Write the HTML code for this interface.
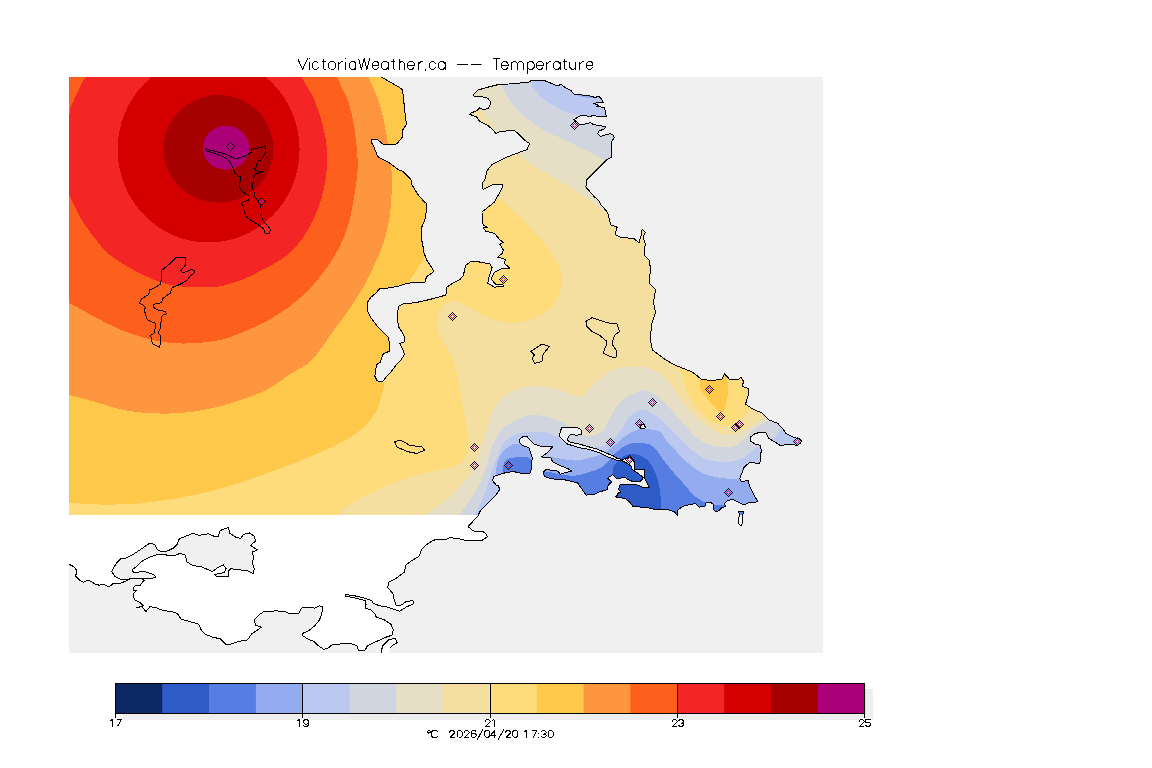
<!DOCTYPE html><html><head><meta charset="utf-8"><title>VictoriaWeather.ca -- Temperature</title>
<style>html,body{margin:0;padding:0;background:#fff;width:1152px;height:768px;overflow:hidden}svg{display:block}text{font-family:"Liberation Sans",sans-serif;fill:#000}</style></head><body>
<svg width="1152" height="768" viewBox="0 0 1152 768">
<defs>
<clipPath id="land"><path d="M69 77 L381.6 77 L388.8 81.3 L398.8 87 L402 89.5 L403.1 94.2 L404.5 108.5 L406.5 124.5 L402 131 L402.5 137 L398 142.5 L395.9 144.3 L389.5 144.5 L383 144.2 L377 139 L372 139.5 L371.5 142.5 L374.4 148 L377.5 156.5 L389.5 163 L398 169.5 L403.1 171.4 L409.5 178 L411.7 180.5 L412 185 L418 194.5 L420.2 197.2 L424.5 202 L426 203 L426 213 L425 219.5 L421.5 227.8 L421.1 236.7 L423.3 248 L423.3 251.1 L426.7 260 L430 265 L432.8 268.9 L433.3 271.7 L431.9 273.1 L427.2 276.2 L425.6 279.4 L424.8 282.5 L414.7 282.5 L406.9 283.3 L397.5 286.4 L388.1 288 L379.5 288.8 L375.6 293.4 L370.9 297.3 L367 302.8 L367 309 L369.4 315.3 L372.5 320 L377.2 326.2 L383.4 332.5 L388.1 337.2 L389.7 343.4 L389.7 351.2 L383.4 353.6 L381.9 357.5 L380.3 362.2 L377.2 363.8 L375.6 370 L374.8 376.2 L377.2 380.9 L382.7 381.7 L386.6 376.2 L389.7 373.1 L391.2 371.6 L396 365.3 L400.6 360.6 L404.5 354.4 L402.2 348.1 L399.8 343.4 L404.5 341.9 L404.5 337.2 L402.2 332.5 L398.3 326.2 L397.5 318.4 L397.5 312.2 L399 305.9 L403.8 303.6 L414.7 302.8 L425.6 300.5 L438.1 297.3 L445.9 295 L446.7 287.2 L453.8 282.5 L460 279.4 L463.3 275.6 L465.6 265.6 L471.1 261.1 L477.8 261.7 L490 263.9 L492.2 267.8 L489.4 275.6 L487.8 283.3 L494.4 287.2 L503.3 286.1 L502.8 284.4 L495.6 284.4 L491.1 278.9 L494.4 272.2 L502.2 268.3 L510 268.3 L504.4 263.3 L505.6 259.4 L497.8 257.2 L502.2 253.3 L503.3 250 L500 244.4 L503.3 242.2 L500 240 L494.4 233.3 L485.6 231.1 L483.3 227.8 L487.8 227.2 L483.3 225 L482.2 221.7 L482 212 L494.5 202 L502 188.2 L502 184 L493.2 184.5 L483.2 189.5 L482 183.2 L484.5 180.8 L487 170.8 L492 164.5 L507 157 L527 149.5 L529.5 143.5 L525.3 140.7 L519.7 135.1 L514.2 130.2 L505.8 131 L497.5 132.3 L496.1 133.7 L491.9 128.9 L487.8 125.4 L479.4 121.2 L476.7 117 L469.7 114.3 L471.1 112.9 L476.7 110.8 L479.4 108 L483.6 109.4 L487.8 108.7 L489.9 106 L490.6 101.8 L487.8 98.3 L482.2 96.9 L473.9 96.2 L473.2 94.8 L478.1 90 L487.8 87.2 L498.9 84.4 L508.6 84 L519.7 83 L528.1 82.3 L532.2 80.2 L543.3 80.2 L548.9 82.3 L557.2 85.8 L561.4 84.4 L565.6 87.9 L571.1 90.7 L573.9 94.1 L580.8 94.8 L591.9 96.2 L594.7 97.6 L598.9 96.2 L601.7 99 L603.1 102.5 L593.3 103.2 L598.9 105.2 L596.1 106.6 L604.4 107.3 L605.8 114.3 L607.2 117 L598.9 116.4 L593.3 115.7 L589.2 116.4 L585 115.7 L580.8 115.7 L576.7 117.8 L573.9 119.8 L576.7 121.9 L579.4 124.7 L585 124 L590.6 122.6 L593.3 124.7 L598.9 125.4 L605.8 126.8 L604.4 128.9 L598.9 131 L597.5 133.7 L600.3 136.5 L604.4 135.1 L610 133.7 L613.5 135.1 L614.2 137.9 L612.1 140.7 L611.5 144.5 L612 157 L607 159.5 L587 179.5 L585.8 187 L594.5 197 L598.3 200 L600.8 204.5 L607.7 212.5 L610.8 225 L617.1 227.1 L615 234.4 L621.2 237.5 L633.8 238.5 L639 242.7 L641 236 L642.1 229.2 L645.2 232.3 L643.1 237.5 L645.2 243.8 L644.2 255.2 L649.4 260.4 L650.4 268.8 L649.4 283.3 L655.6 289.6 L653.5 302.1 L655.6 312.5 L651.5 325 L650.4 339.6 L652.5 350 L664.7 359.1 L675.1 365.2 L692.5 372.1 L701.2 379.1 L711.6 380.8 L722 379.1 L724.6 373.9 L727.2 376.5 L729 379.1 L737.6 379.9 L741.1 377.3 L743.7 381.7 L742 386 L748.1 388.6 L748.1 395.6 L745.5 404.2 L753.3 409.4 L762 412.9 L768.9 419.9 L777.6 423.3 L782.8 428.5 L786.2 433.8 L793.2 437.2 L800.1 439 L801.9 440.7 L800.1 443.3 L796.7 445.9 L793.2 444.2 L786.2 444.2 L781 445.9 L775.8 442.5 L768.9 438.5 L766 433 L760.2 432.5 L755 433.5 L750.8 436.9 L750.1 441.1 L755 443.9 L760.6 445.3 L761.2 450.8 L760.6 456.4 L759.9 463.3 L749.4 462.6 L743.9 467.5 L742.5 471.7 L739.7 478.6 L741.1 481.4 L748.1 480.7 L749.4 485.6 L752.2 491.1 L755 496.7 L757.8 501.5 L755 502.2 L748.1 502.9 L743.9 505 L738.3 502.2 L732.8 499.4 L727.2 500.8 L724.4 503.6 L725.8 506.4 L721.7 507.8 L718.9 510.6 L716.1 511.9 L713.3 509.2 L714 505 L710.6 502.2 L706.4 502.2 L705 506.4 L699.4 507.1 L695.3 503.6 L688.3 505 L682.8 506.4 L677.2 510.6 L677.2 515.4 L674.4 511.9 L668.9 509.9 L660.6 509.2 L655 509.9 L652.2 508.5 L644.7 507.4 L633 506.4 L629.1 501.5 L625 498.4 L615.6 497 L616.9 495.8 L618.1 493.2 L620.6 492 L618.8 489.5 L619.4 485.8 L620.6 484.2 L623.1 484.5 L632.5 484.5 L637.5 485.1 L643.8 487.6 L649.4 488 L644.4 477.6 L644.4 469.5 L633.8 470.1 L635 468.9 L634.4 466.4 L634.4 462 L630.6 457.3 L622.5 459.5 L617.5 458.6 L612.5 455.4 L606.2 453.2 L602 451.2 L596.9 448.9 L589.1 446.9 L580 444.3 L570.8 442.3 L567.6 440.4 L568.2 436.5 L570.8 434.5 L576 435.2 L581.9 434.5 L581.2 430 L577.3 427.4 L561.7 427.4 L560.5 431 L559 436 L562 439 L567.2 443.9 L577.6 447.3 L589.8 449.6 L600.2 453.2 L608.1 457 L614.4 459.2 L617.5 460.6 L622.5 461 L626.2 462.8 L631 466 L632.3 469.6 L638.8 473.9 L643.5 477.8 L640 481.4 L633.8 482 L626.9 478.9 L625 477 L616.9 478.9 L612.5 474.8 L607.5 478.2 L611.9 482 L608.8 484.5 L607.5 487 L607.5 489.5 L603.8 490.8 L600 491.4 L595 494.2 L586.3 495.1 L581.1 488.1 L577.6 482.9 L563.8 479.6 L551.7 478.9 L544.7 476.6 L543.1 472.6 L546.2 469.5 L558 471.1 L560.3 474.2 L568.1 471.9 L572 471.1 L568.1 468.8 L560.3 465.6 L552.5 461.7 L550.9 457.8 L541.6 457 L547.8 452.3 L552.5 446.9 L540 446.1 L533.8 443.8 L529.8 439.8 L526.7 436.3 L522.8 436.7 L519.7 439.1 L519.7 443 L522.8 445.7 L529 447.7 L530.6 452.3 L532.2 457.8 L531.4 468.8 L529.8 473.4 L521.2 473.4 L513.4 471.5 L505.6 472.7 L497.8 475 L493.9 476.6 L492.3 480.5 L496.2 485 L498.6 485.5 L499.5 489.9 L496 495.1 L489.1 502 L480.4 510.7 L477.9 515.9 L468.1 526.7 L473.5 531 L484.4 532.1 L487.6 536.5 L482.2 540.2 L467 540.8 L458.3 538.6 L449.7 537.6 L445.3 539.7 L436.6 539.3 L432.3 540.8 L425.8 545.1 L421.4 549.5 L419.3 556 L410.6 561.4 L406.2 564.7 L404.1 572.3 L395.4 578.8 L388.9 582 L387.8 587.5 L393.2 594 L394.3 600.5 L396.5 605.9 L401.9 604.8 L406.2 601.6 L412.8 600.5 L413.8 603.7 L406.2 607 L399.7 611.3 L393.2 609.2 L386.7 607 L380.2 605.9 L373.7 603.7 L371.5 600.5 L365 598.3 L354.2 595.7 L345.5 594.6 L345.5 596.1 L354.2 597.9 L365 600.5 L366.1 604.8 L365 608.1 L371.5 610.3 L374.8 613.5 L375.9 616.8 L384.5 620 L391.1 624.4 L393.2 629.8 L392.1 635.2 L386.7 636.9 L375.9 641.7 L367.2 646.1 L365 650.4 L358.5 650.8 L357.4 646.1 L352 643.9 L343.3 643.9 L332.5 644.3 L328.1 648.2 L323.8 649.3 L317.3 645 L314 641.3 L308.6 639.5 L302.1 635.2 L303.2 633 L308.6 630.9 L315.1 625.4 L319.4 620 L321.6 614.6 L322.7 607 L319.4 605.9 L315.1 608.1 L308.6 607.4 L303.2 607 L301 609.2 L298.8 613.5 L293.4 613.9 L289.1 613.5 L284.7 611.3 L276 610.9 L267.4 611.3 L264 611.6 L259.3 614.5 L254.4 619.4 L255.4 625.2 L261.3 627.2 L257.4 630.1 L251.5 634 L247.6 639.9 L239.8 641.2 L232 643.8 L226.1 644.8 L220.2 638.9 L212.4 637 L204.6 634 L200.7 629.1 L198.8 624.3 L189 621.3 L181.2 619.4 L177.3 613.5 L171.4 611.6 L163.6 610.6 L155.8 607.7 L149.9 606.7 L146 611.6 L142.1 606.7 L136.3 607.7 L143.1 605.7 L140.2 602.8 L134.3 599.8 L133.3 594 L137.2 590.1 L133.3 590.1 L134.3 586.2 L140.2 585.2 L144.1 580.3 L142.1 578.8 L138.2 578.8 L132.4 578 L126.5 580.7 L120.6 583.2 L112.8 583.8 L108.9 587.1 L103 584.2 L99.2 585.2 L95.2 584.2 L91.3 581.3 L87.4 580.3 L83.5 582.3 L79.6 580.3 L75.7 576.4 L76.7 570.5 L73.8 566.6 L68.9 564.3 Z"/></clipPath>
<clipPath id="data"><rect x="69" y="77" width="754" height="438"/></clipPath>
<clipPath id="isl"><path d="M738.3 511.9 L743.2 511.9 L742.5 518.9 L741.8 525.8 L739 524.4 L738.3 518.9 L739.7 514.7 Z"/></clipPath>
</defs>
<rect width="1152" height="768" fill="#fff"/>
<rect x="69" y="77" width="754" height="576" fill="#f0f0f0"/>
<path d="M69 77 L381.6 77 L388.8 81.3 L398.8 87 L402 89.5 L403.1 94.2 L404.5 108.5 L406.5 124.5 L402 131 L402.5 137 L398 142.5 L395.9 144.3 L389.5 144.5 L383 144.2 L377 139 L372 139.5 L371.5 142.5 L374.4 148 L377.5 156.5 L389.5 163 L398 169.5 L403.1 171.4 L409.5 178 L411.7 180.5 L412 185 L418 194.5 L420.2 197.2 L424.5 202 L426 203 L426 213 L425 219.5 L421.5 227.8 L421.1 236.7 L423.3 248 L423.3 251.1 L426.7 260 L430 265 L432.8 268.9 L433.3 271.7 L431.9 273.1 L427.2 276.2 L425.6 279.4 L424.8 282.5 L414.7 282.5 L406.9 283.3 L397.5 286.4 L388.1 288 L379.5 288.8 L375.6 293.4 L370.9 297.3 L367 302.8 L367 309 L369.4 315.3 L372.5 320 L377.2 326.2 L383.4 332.5 L388.1 337.2 L389.7 343.4 L389.7 351.2 L383.4 353.6 L381.9 357.5 L380.3 362.2 L377.2 363.8 L375.6 370 L374.8 376.2 L377.2 380.9 L382.7 381.7 L386.6 376.2 L389.7 373.1 L391.2 371.6 L396 365.3 L400.6 360.6 L404.5 354.4 L402.2 348.1 L399.8 343.4 L404.5 341.9 L404.5 337.2 L402.2 332.5 L398.3 326.2 L397.5 318.4 L397.5 312.2 L399 305.9 L403.8 303.6 L414.7 302.8 L425.6 300.5 L438.1 297.3 L445.9 295 L446.7 287.2 L453.8 282.5 L460 279.4 L463.3 275.6 L465.6 265.6 L471.1 261.1 L477.8 261.7 L490 263.9 L492.2 267.8 L489.4 275.6 L487.8 283.3 L494.4 287.2 L503.3 286.1 L502.8 284.4 L495.6 284.4 L491.1 278.9 L494.4 272.2 L502.2 268.3 L510 268.3 L504.4 263.3 L505.6 259.4 L497.8 257.2 L502.2 253.3 L503.3 250 L500 244.4 L503.3 242.2 L500 240 L494.4 233.3 L485.6 231.1 L483.3 227.8 L487.8 227.2 L483.3 225 L482.2 221.7 L482 212 L494.5 202 L502 188.2 L502 184 L493.2 184.5 L483.2 189.5 L482 183.2 L484.5 180.8 L487 170.8 L492 164.5 L507 157 L527 149.5 L529.5 143.5 L525.3 140.7 L519.7 135.1 L514.2 130.2 L505.8 131 L497.5 132.3 L496.1 133.7 L491.9 128.9 L487.8 125.4 L479.4 121.2 L476.7 117 L469.7 114.3 L471.1 112.9 L476.7 110.8 L479.4 108 L483.6 109.4 L487.8 108.7 L489.9 106 L490.6 101.8 L487.8 98.3 L482.2 96.9 L473.9 96.2 L473.2 94.8 L478.1 90 L487.8 87.2 L498.9 84.4 L508.6 84 L519.7 83 L528.1 82.3 L532.2 80.2 L543.3 80.2 L548.9 82.3 L557.2 85.8 L561.4 84.4 L565.6 87.9 L571.1 90.7 L573.9 94.1 L580.8 94.8 L591.9 96.2 L594.7 97.6 L598.9 96.2 L601.7 99 L603.1 102.5 L593.3 103.2 L598.9 105.2 L596.1 106.6 L604.4 107.3 L605.8 114.3 L607.2 117 L598.9 116.4 L593.3 115.7 L589.2 116.4 L585 115.7 L580.8 115.7 L576.7 117.8 L573.9 119.8 L576.7 121.9 L579.4 124.7 L585 124 L590.6 122.6 L593.3 124.7 L598.9 125.4 L605.8 126.8 L604.4 128.9 L598.9 131 L597.5 133.7 L600.3 136.5 L604.4 135.1 L610 133.7 L613.5 135.1 L614.2 137.9 L612.1 140.7 L611.5 144.5 L612 157 L607 159.5 L587 179.5 L585.8 187 L594.5 197 L598.3 200 L600.8 204.5 L607.7 212.5 L610.8 225 L617.1 227.1 L615 234.4 L621.2 237.5 L633.8 238.5 L639 242.7 L641 236 L642.1 229.2 L645.2 232.3 L643.1 237.5 L645.2 243.8 L644.2 255.2 L649.4 260.4 L650.4 268.8 L649.4 283.3 L655.6 289.6 L653.5 302.1 L655.6 312.5 L651.5 325 L650.4 339.6 L652.5 350 L664.7 359.1 L675.1 365.2 L692.5 372.1 L701.2 379.1 L711.6 380.8 L722 379.1 L724.6 373.9 L727.2 376.5 L729 379.1 L737.6 379.9 L741.1 377.3 L743.7 381.7 L742 386 L748.1 388.6 L748.1 395.6 L745.5 404.2 L753.3 409.4 L762 412.9 L768.9 419.9 L777.6 423.3 L782.8 428.5 L786.2 433.8 L793.2 437.2 L800.1 439 L801.9 440.7 L800.1 443.3 L796.7 445.9 L793.2 444.2 L786.2 444.2 L781 445.9 L775.8 442.5 L768.9 438.5 L766 433 L760.2 432.5 L755 433.5 L750.8 436.9 L750.1 441.1 L755 443.9 L760.6 445.3 L761.2 450.8 L760.6 456.4 L759.9 463.3 L749.4 462.6 L743.9 467.5 L742.5 471.7 L739.7 478.6 L741.1 481.4 L748.1 480.7 L749.4 485.6 L752.2 491.1 L755 496.7 L757.8 501.5 L755 502.2 L748.1 502.9 L743.9 505 L738.3 502.2 L732.8 499.4 L727.2 500.8 L724.4 503.6 L725.8 506.4 L721.7 507.8 L718.9 510.6 L716.1 511.9 L713.3 509.2 L714 505 L710.6 502.2 L706.4 502.2 L705 506.4 L699.4 507.1 L695.3 503.6 L688.3 505 L682.8 506.4 L677.2 510.6 L677.2 515.4 L674.4 511.9 L668.9 509.9 L660.6 509.2 L655 509.9 L652.2 508.5 L644.7 507.4 L633 506.4 L629.1 501.5 L625 498.4 L615.6 497 L616.9 495.8 L618.1 493.2 L620.6 492 L618.8 489.5 L619.4 485.8 L620.6 484.2 L623.1 484.5 L632.5 484.5 L637.5 485.1 L643.8 487.6 L649.4 488 L644.4 477.6 L644.4 469.5 L633.8 470.1 L635 468.9 L634.4 466.4 L634.4 462 L630.6 457.3 L622.5 459.5 L617.5 458.6 L612.5 455.4 L606.2 453.2 L602 451.2 L596.9 448.9 L589.1 446.9 L580 444.3 L570.8 442.3 L567.6 440.4 L568.2 436.5 L570.8 434.5 L576 435.2 L581.9 434.5 L581.2 430 L577.3 427.4 L561.7 427.4 L560.5 431 L559 436 L562 439 L567.2 443.9 L577.6 447.3 L589.8 449.6 L600.2 453.2 L608.1 457 L614.4 459.2 L617.5 460.6 L622.5 461 L626.2 462.8 L631 466 L632.3 469.6 L638.8 473.9 L643.5 477.8 L640 481.4 L633.8 482 L626.9 478.9 L625 477 L616.9 478.9 L612.5 474.8 L607.5 478.2 L611.9 482 L608.8 484.5 L607.5 487 L607.5 489.5 L603.8 490.8 L600 491.4 L595 494.2 L586.3 495.1 L581.1 488.1 L577.6 482.9 L563.8 479.6 L551.7 478.9 L544.7 476.6 L543.1 472.6 L546.2 469.5 L558 471.1 L560.3 474.2 L568.1 471.9 L572 471.1 L568.1 468.8 L560.3 465.6 L552.5 461.7 L550.9 457.8 L541.6 457 L547.8 452.3 L552.5 446.9 L540 446.1 L533.8 443.8 L529.8 439.8 L526.7 436.3 L522.8 436.7 L519.7 439.1 L519.7 443 L522.8 445.7 L529 447.7 L530.6 452.3 L532.2 457.8 L531.4 468.8 L529.8 473.4 L521.2 473.4 L513.4 471.5 L505.6 472.7 L497.8 475 L493.9 476.6 L492.3 480.5 L496.2 485 L498.6 485.5 L499.5 489.9 L496 495.1 L489.1 502 L480.4 510.7 L477.9 515.9 L468.1 526.7 L473.5 531 L484.4 532.1 L487.6 536.5 L482.2 540.2 L467 540.8 L458.3 538.6 L449.7 537.6 L445.3 539.7 L436.6 539.3 L432.3 540.8 L425.8 545.1 L421.4 549.5 L419.3 556 L410.6 561.4 L406.2 564.7 L404.1 572.3 L395.4 578.8 L388.9 582 L387.8 587.5 L393.2 594 L394.3 600.5 L396.5 605.9 L401.9 604.8 L406.2 601.6 L412.8 600.5 L413.8 603.7 L406.2 607 L399.7 611.3 L393.2 609.2 L386.7 607 L380.2 605.9 L373.7 603.7 L371.5 600.5 L365 598.3 L354.2 595.7 L345.5 594.6 L345.5 596.1 L354.2 597.9 L365 600.5 L366.1 604.8 L365 608.1 L371.5 610.3 L374.8 613.5 L375.9 616.8 L384.5 620 L391.1 624.4 L393.2 629.8 L392.1 635.2 L386.7 636.9 L375.9 641.7 L367.2 646.1 L365 650.4 L358.5 650.8 L357.4 646.1 L352 643.9 L343.3 643.9 L332.5 644.3 L328.1 648.2 L323.8 649.3 L317.3 645 L314 641.3 L308.6 639.5 L302.1 635.2 L303.2 633 L308.6 630.9 L315.1 625.4 L319.4 620 L321.6 614.6 L322.7 607 L319.4 605.9 L315.1 608.1 L308.6 607.4 L303.2 607 L301 609.2 L298.8 613.5 L293.4 613.9 L289.1 613.5 L284.7 611.3 L276 610.9 L267.4 611.3 L264 611.6 L259.3 614.5 L254.4 619.4 L255.4 625.2 L261.3 627.2 L257.4 630.1 L251.5 634 L247.6 639.9 L239.8 641.2 L232 643.8 L226.1 644.8 L220.2 638.9 L212.4 637 L204.6 634 L200.7 629.1 L198.8 624.3 L189 621.3 L181.2 619.4 L177.3 613.5 L171.4 611.6 L163.6 610.6 L155.8 607.7 L149.9 606.7 L146 611.6 L142.1 606.7 L136.3 607.7 L143.1 605.7 L140.2 602.8 L134.3 599.8 L133.3 594 L137.2 590.1 L133.3 590.1 L134.3 586.2 L140.2 585.2 L144.1 580.3 L142.1 578.8 L138.2 578.8 L132.4 578 L126.5 580.7 L120.6 583.2 L112.8 583.8 L108.9 587.1 L103 584.2 L99.2 585.2 L95.2 584.2 L91.3 581.3 L87.4 580.3 L83.5 582.3 L79.6 580.3 L75.7 576.4 L76.7 570.5 L73.8 566.6 L68.9 564.3 Z" fill="#fff"/>
<path d="M738.3 511.9 L743.2 511.9 L742.5 518.9 L741.8 525.8 L739 524.4 L738.3 518.9 L739.7 514.7 Z" fill="#fff"/>
<path d="M381.3 653 L382.4 646.1 L388.9 639.5 L395.4 638.5 L397.1 642.8 L393.2 645 L390 648.2 L388.9 653 Z" fill="#fff"/>
<g clip-path="url(#data)"><g clip-path="url(#land)" shape-rendering="crispEdges"><rect x="60" y="60" width="780" height="480" fill="#f5dfa0"/><path d="M474.5 104 C475.3 104.8 477.6 106.8 479.4 108.7 C481.1 110.7 482.9 112.9 485 115.7 C487.1 118.5 490 122.6 491.9 125.4 C493.8 128.2 493.4 128.9 496.1 132.3 C498.8 135.7 504 142.1 508 146 C512 149.9 515.6 152.5 520 155.8 C524.4 159.1 529.5 162.8 534.3 165.9 C539.1 169 543.9 171.7 548.7 174.5 C553.5 177.3 558.2 180.1 563 183 C567.8 185.9 572.5 188.6 577.3 191.7 C582.1 194.8 586.8 198.4 591.6 201.7 C596.4 205 601.3 208.5 606 211.7 C610.7 214.9 617.7 219.4 620 221 L660 225 L660 70 L470 70 Z" fill="#e6dec5"/><path d="M767.1 416.4 C765.1 417.5 759.3 420.7 755 423.3 C750.7 425.9 745.7 430 741.1 432 C736.5 434 731.8 435.8 727.2 435.5 C722.6 435.2 717.9 432.9 713.3 430.3 C708.7 427.7 704 423.9 699.4 419.9 C694.8 415.8 689.9 411.2 685.6 406 C681.3 400.8 677.5 393.8 673.4 388.6 C669.3 383.4 665.6 378.2 661.2 374.7 C656.9 371.2 650.6 369 647.4 367.8 C644.2 366.6 645.8 367.6 642.3 367.4 C638.8 367.2 631.6 366.1 626.7 366.5 C621.8 366.9 617.4 367.8 612.8 370 C608.2 372.2 602.7 376.5 598.9 379.5 C595.1 382.5 593.1 385.3 590.2 388.2 C587.3 391.1 584.7 395.9 581.5 396.9 C578.3 397.9 575.1 395.6 571.1 394.3 C567.1 393 561.8 390.4 557.2 389.1 C552.6 387.8 547.9 386.9 543.3 386.5 C538.7 386.1 534 385.9 529.4 386.5 C524.8 387.1 519.9 388.2 515.6 389.9 C511.3 391.6 506.9 394 503.4 396.9 C499.9 399.8 497 403.6 494.7 407.3 C492.4 411.1 490.8 415.6 489.5 419.4 C488.2 423.2 488.1 425.6 486.9 430 C485.6 434.4 483.6 441.3 482 446 C480.4 450.7 478.9 453.5 477.1 458.1 C475.3 462.7 473.9 469.3 471.2 473.8 C468.6 478.2 465.2 480.4 461.3 484.6 C457.4 488.8 453.8 494.1 447.8 499.1 C441.8 504.1 431.1 509.5 425.1 514.6 C419.1 519.8 414.2 527.4 412 530 L830 530 L830 405 L780 405 Z" fill="#e6dec5"/><path d="M495 72 C496.1 74.2 499.4 80.6 501.7 85.1 C504 89.6 505.6 94.4 508.6 99 C511.6 103.6 515.4 108.3 519.7 112.5 C524 116.7 529.5 120.9 534.3 124.3 C539.1 127.7 543.9 130.5 548.7 132.9 C553.5 135.3 558.2 136.7 563 138.9 C567.8 141.1 572.5 143.7 577.3 146 C582.1 148.3 586.8 150.6 591.6 153 C596.4 155.4 600.4 157.8 606 160.3 C611.6 162.8 621.8 166.7 625 168 L660 170 L660 70 Z" fill="#d0d5e0"/><path d="M772 417 C771.5 417.5 770.9 418.6 768.9 419.9 C766.9 421.2 762.8 423.3 760 425 C757.2 426.7 754.7 427.8 752.2 430 C749.8 432.2 748.1 435.8 745.3 438.3 C742.5 440.9 739.1 443.8 735.6 445.3 C732.1 446.8 728.6 447.4 724.4 447.4 C720.2 447.4 714.8 446.6 710.6 445.3 C706.4 444 702.4 441.6 699.4 439.7 C696.4 437.8 696 437.4 692.5 433.8 C689 430.1 683.2 423.3 678.6 418.1 C674 412.9 669.3 406.8 664.7 402.5 C660.1 398.2 654.5 394.1 650.8 392.1 C647.1 390.2 646.3 390 642.3 390.8 C638.3 391.6 631 394.1 626.7 396.9 C622.4 399.6 619.1 403.6 616.2 407.3 C613.4 411.1 611.3 415.6 609.3 419.4 C607.3 423.2 606 427.6 604.1 430 C602.2 432.4 600.4 433 598 434 C595.6 435 592.6 435.7 590 436 C587.4 436.3 585.1 436.6 582.6 435.8 C580.1 435 578.1 433.1 575 431 C571.9 428.9 568.4 425.1 564.2 422.9 C560 420.6 554.4 418.8 550 417.5 C545.6 416.2 541.1 415.6 537.7 415.2 C534.3 414.8 532.7 414.5 529.4 415.1 C526.1 415.8 522.6 416.8 518.1 419.1 C513.6 421.4 506.7 424.6 502.5 428.8 C498.3 433 495.3 438.6 492.7 444.5 C490.1 450.4 489.2 457.2 486.9 464 C484.6 470.8 482 479.3 479.1 485.5 C476.2 491.7 472.6 496.2 469.3 501.1 C466 506 462.7 510 459.5 514.8 C456.3 519.6 451.6 527.5 450 530 L830 530 L830 410 L785 410 Z" fill="#d0d5e0"/><path d="M524 70 C524.9 71.9 527.3 77.9 529.4 81.6 C531.5 85.3 534.1 89.1 536.4 92 C538.7 94.9 540.3 96.7 543.3 99 C546.3 101.3 550.7 103.9 554.4 106 C558.1 108.1 561.9 110 565.6 111.5 C569.3 113 572.6 113.9 576.7 115 C580.8 116.1 584.5 117 590 118 C595.5 119 603.3 120 610 121 C616.7 122 626.7 123.5 630 124 L660 124 L660 70 Z" fill="#bbc8f0"/><path d="M786 424 C784.9 425.1 781.6 427.5 779.3 430.3 C777 433.1 776.2 437.8 772.4 440.7 C768.6 443.6 761.6 444.7 756.7 447.6 C751.8 450.5 747.1 455.7 742.8 458 C738.5 460.3 735 460.9 730.7 461.5 C726.4 462.1 721.4 462.1 716.8 461.5 C712.2 460.9 707.6 460.3 703 458 C698.4 455.7 693.6 451.6 689 447.6 C684.4 443.6 679.7 438.4 675.1 433.8 C670.5 429.1 665.9 423.7 661.2 419.9 C656.6 416.1 650.9 412.8 647.4 411.2 C643.9 409.6 642.9 409.2 640 410 C637.1 410.8 633 413 630.1 416 C627.2 419 625.4 424.5 622.9 428 C620.4 431.5 617.9 434.3 615.1 437.1 C612.3 439.9 609.2 443.2 606 445 C602.8 446.8 599.1 447.4 595.6 447.6 C592.1 447.8 588.6 446.7 585 446 C581.4 445.3 577.7 444.3 574 443.5 C570.3 442.7 565.8 442.1 563 441 C560.2 439.9 559.9 437.9 557.2 436.6 C554.5 435.3 550.2 433.8 547 433 C543.8 432.2 542.5 431.6 537.7 431.8 C532.9 431.9 523.6 431.9 518.1 433.7 C512.6 435.5 508.1 438.4 504.5 442.5 C500.9 446.6 498.9 452.9 496.6 458.1 C494.3 463.3 492.8 467.9 490.8 473.8 C488.9 479.6 486.8 487.8 484.9 493.3 C482.9 498.8 480.9 503.4 479.1 507 C477.3 510.6 476.4 511 474 514.8 C471.6 518.6 466.5 527.5 465 530 L830 530 L830 424 Z" fill="#bbc8f0"/><path d="M578 93.5 C579.7 93.3 586.8 94.7 590 95.2 C593.2 95.7 596.7 96 597 96.5 C597.3 97 594.8 98 592 98 C589.2 98 582.3 97.2 580 96.5 C577.7 95.8 576.3 93.7 578 93.5 Z" fill="#93acf0"/><path d="M738.3 479.3 C736.4 479.2 730.9 479 727.2 478.6 C723.5 478.2 720.3 478.1 716.1 477.2 C711.9 476.3 706.8 475.4 702.2 473.1 C697.6 470.8 692.7 467 688.3 463.3 C683.9 459.6 679.5 454.7 675.8 450.8 C672.1 446.9 668.5 443.1 666 440 C663.5 436.9 663.5 433.7 660.7 431.9 C657.9 430.1 652.7 429.7 649 429.3 C645.3 428.9 642.4 428.2 638.5 429.3 C634.6 430.4 629.4 433.2 625.5 435.8 C621.6 438.4 619 441.9 615.1 445 C611.2 448.1 606.4 451.9 602.1 454.1 C597.8 456.3 593.5 456.9 589.1 458 C584.8 459.1 580.4 460.3 576 460.5 C571.6 460.7 567.3 459.6 563 459 C558.7 458.4 553.6 457.1 550 457 C546.4 456.9 544.1 459.3 541.6 458.1 C539.1 456.9 537 451.9 535 450 C533 448.1 532.3 447.4 529.8 446.4 C527.3 445.4 522.9 444.3 520 444 C517.1 443.7 515.2 443.1 512.3 444.5 C509.4 445.9 504.9 449.4 502.5 452.3 C500.1 455.2 498.7 457.8 497.6 462 C496.5 466.2 495.5 472.5 495.7 477.7 C495.9 482.9 499.6 487.9 498.6 493.3 C497.7 498.7 493.1 503.9 490 510 C486.9 516.1 481.7 526.7 480 530 L830 530 L830 480 L760 480 Z" fill="#93acf0"/><path d="M705 502.2 C704.1 501.7 701.5 500.8 699.4 499.4 C697.3 498 695.3 496.7 692.5 493.9 C689.7 491.1 686.3 486.7 682.8 482.8 C679.3 478.9 675.2 474.5 671.7 470.3 C668.2 466.1 664.9 461.7 661.9 457.8 C658.9 453.9 656.6 449.1 653.6 446.7 C650.6 444.3 647.7 443.7 643.9 443.2 C640.1 442.7 634.6 442.7 630.7 443.6 C626.8 444.6 623.5 446.5 620.3 448.9 C617 451.3 614.2 455 611.2 458 C608.2 461 605.8 464.7 602.1 467.1 C598.4 469.5 593.5 470.9 589.1 472.3 C584.8 473.7 580.4 475.1 576 475.5 C571.6 475.9 567.3 475.5 563 474.9 C558.7 474.3 553.2 472.5 550 472 C546.8 471.5 546 473 543.5 471.8 C541 470.6 537.3 467.3 535 465 C532.7 462.7 532 459.4 529.8 458.1 C527.6 456.8 525.2 457.1 522 457.1 C518.8 457.1 513.2 457.3 510.3 458.1 C507.4 458.9 505.8 460.1 504.5 462 C503.2 463.9 502.8 467.8 502.5 469.8 C502.2 471.8 503.4 470.6 503 474 C502.6 477.4 500.5 487.3 500 490 L500 530 L830 530 L830 505 L712 505 Z" fill="#557de2"/><path d="M660.6 515 C660.6 514 660.6 512.2 660.6 509.2 C660.6 506.1 660.8 500.6 660.6 496.7 C660.4 492.8 660.1 489.8 659.2 485.6 C658.3 481.4 656.9 475.9 655 471.7 C653.1 467.5 650.5 463.3 648 460.6 C645.5 457.9 642.7 456.5 639.8 455.4 C636.9 454.3 633.5 453.9 630.7 454.1 C627.9 454.3 625.5 455 622.9 456.7 C620.3 458.4 616.8 462.3 615.1 464.5 C613.4 466.7 612.7 467.8 612.5 469.7 C612.3 471.6 614.5 473.6 613.8 476.2 C613 478.8 609.3 481.9 608 485 C606.7 488.1 606.7 490 606 495 C605.3 500 604.3 511.7 604 515 L604 530 L662 530 Z" fill="#2d5bc8"/><path d="M482 192 C484.8 193.2 492.1 194.4 498.8 199 C505.4 203.6 513.7 211.7 521.7 219.6 C529.7 227.5 540.6 239 546.7 246.7 C552.8 254.4 556 259.8 558.5 266 C561 272.2 563.1 277.2 562 284 C560.9 290.8 557 300.7 552 306.5 C547 312.3 538.7 316.3 532 319 C525.3 321.7 518.7 322.8 512 322.8 C505.3 322.8 498.7 321.3 492 319 C485.3 316.7 477.8 311.9 472 309 C466.2 306.1 461.6 302.3 457 301.5 C452.4 300.7 447.8 301.1 444.5 304 C441.2 306.9 437.8 313.6 437 319 C436.2 324.4 437.4 331.1 439.5 336.5 C441.6 341.9 446.6 345.2 449.5 351.5 C452.4 357.8 455.2 367.3 457 374 C458.8 380.7 458.8 384.9 460 391.7 C461.2 398.5 463.3 408.6 464.5 415 C465.7 421.4 466.3 424.5 467 430 C467.7 435.5 469 443.2 468.5 448 C468 452.8 466.1 456 464 459 C461.9 462 459.6 464.1 455.6 465.9 C451.6 467.7 445.1 468.6 440 469.8 C434.9 471 433.6 470.5 425.1 473 C416.6 475.5 401 479.7 389 484.6 C377 489.5 361.3 497.6 352.9 502.6 C344.5 507.6 342.3 510 338.5 514.6 C334.7 519.2 331.4 527.4 330 530 L50 530 L50 60 L440 60 L440 150 L465 170 L478 190 Z" fill="#fedb7b"/><path d="M678.6 367.8 C679.2 368.9 680.7 370.6 682.1 374.7 C683.5 378.8 685 386.9 687.3 392.1 C689.6 397.3 692.8 401.7 696 406 C699.2 410.3 702.4 414.9 706.4 418.1 C710.4 421.3 716.2 423.9 720.3 425.1 C724.3 426.3 727.2 426.3 730.7 425.1 C734.2 423.9 738.2 420.4 741.1 418.1 C744 415.8 746.3 413.6 748.1 411.2 C749.9 408.8 751.4 405.2 752 404 L760 380 L700 355 L676 362 Z" fill="#fedb7b"/><path d="M69 502.6 C74.2 503 88.9 504.3 100.1 504.5 C111.3 504.7 124.2 504.6 136.2 503.7 C148.2 502.8 160.2 501 172.3 499 C184.4 497 196.4 494.8 208.5 491.8 C220.6 488.8 232.6 484.9 244.6 481 C256.6 477.1 268.7 472.8 280.7 468.3 C292.7 463.8 304.8 459.3 316.8 453.9 C328.8 448.5 343.3 442.4 352.9 435.8 C362.5 429.2 369.8 421.2 374.6 414.2 C379.5 407.2 380.4 399 382 394 C383.6 389 384.3 387 384 384 C383.7 381 379.7 379 380 376 C380.3 373 383.8 369.3 386 366 C388.2 362.7 391.3 360 393 356 C394.7 352 396.5 346.3 396 342 C395.5 337.7 391.3 337 390 330 C388.7 323 385.5 307 388 300 C390.5 293 401.1 291.8 405 288 C408.9 284.2 408.7 281.9 411.7 277.3 C414.7 272.7 419.7 265.1 423.1 260.2 C426.5 255.3 429.2 253 432 248 C434.8 243 438.7 233 440 230 L440 60 L50 60 L50 502 Z" fill="#fec84a"/><path d="M700 372 C700 373.5 700.2 378 700.3 380.8 C700.3 383.6 699.3 385.9 700.3 388.6 C701.3 391.4 703.6 393.8 706.4 397.3 C709.1 400.8 713.9 407.1 716.8 409.4 C719.7 411.7 721.9 414.1 723.8 411.2 C725.6 408.3 727.5 397.5 728.1 392.1 C728.7 386.8 727.2 382.5 727.2 379.1 C727.2 375.8 727.9 373.2 728 372 Z" fill="#fec84a"/><path d="M69 395 C73.2 396.1 85.7 399.2 94 401.5 C102.3 403.8 110.7 407.1 119 409 C127.3 410.9 135.7 412 144 412.8 C152.3 413.5 160.7 413.7 169 413.5 C177.3 413.3 185.7 412.7 194 411.5 C202.3 410.3 210.7 408.6 219 406.5 C227.3 404.4 235.8 401.9 244 399 C252.2 396.1 260 393.3 268 389 C276 384.7 284.7 377.8 292 373 C299.3 368.2 305.4 366.6 312 360 C318.6 353.4 325.6 341.6 331.7 333.3 C337.8 325 343.1 318 348.3 310.4 C353.5 302.8 358.5 295.5 363 287.5 C367.5 279.5 371.9 270.1 375.4 262.5 C378.9 254.9 381.5 248.6 383.8 241.7 C386 234.8 387.7 227.8 389 220.8 C390.3 213.9 390.9 208.2 391.3 200 C391.7 191.8 392.3 181.4 391.6 171.4 C390.9 161.4 389.2 151 387.3 140 C385.4 129 383.3 116.1 380.2 105.6 C377.1 95.1 371.4 84.6 368.7 77 C366 69.4 364.8 62.8 364 60 L50 60 L50 393 Z" fill="#fd963f"/><path d="M69 302.8 C73.2 305 85.7 312.1 94 316.5 C102.3 320.9 110.7 325.5 119 329 C127.3 332.5 135.7 335.5 144 337.8 C152.3 340 160.7 341.8 169 342.8 C177.3 343.7 185.7 343.7 194 343.2 C202.3 342.8 211.3 341.9 219 340.2 C226.7 338.6 232 336.5 240 333.3 C248 330.1 258.7 325.3 267 320.8 C275.3 316.3 282.7 311.8 290 306.2 C297.3 300.7 304.6 294.1 310.8 287.5 C317.1 280.9 322.6 273.6 327.5 266.7 C332.4 259.8 336.5 252.8 340 245.8 C343.5 238.9 346.1 232.6 348.3 225 C350.6 217.4 352 208.4 353.5 200 C355 191.6 356.7 181.9 357.3 174.3 C357.9 166.7 357.8 161.9 357.3 154.3 C356.8 146.7 355.8 137.1 354.4 128.5 C353 119.9 351.6 111.4 348.7 102.8 C345.8 94.2 339.8 84.1 337.2 77 C334.6 69.9 333.7 62.8 333 60 L50 60 L50 300 Z" fill="#fd5f1c"/><path d="M69 194.5 C70.3 197.2 74.1 205.6 77 211 C79.9 216.4 81.6 220.2 86.5 227 C91.4 233.8 99.8 245.5 106.5 252 C113.2 258.5 120.4 262.2 126.5 266 C132.6 269.8 138.1 272.4 143 274.8 C147.9 277.2 151.8 279 156.1 280.6 C160.4 282.2 164.8 283.5 169.1 284.5 C173.4 285.5 177.1 286.1 182.1 286.5 C187.1 286.9 192.8 287 199 287 C205.2 287 211.5 287.8 219 286.5 C226.5 285.2 236.5 281.9 244 279 C251.5 276.1 258 272.1 264 269 C270 265.9 274.9 263.6 280 260.2 C285.1 256.8 289.5 253.9 294.3 248.7 C299.1 243.4 304.3 236.3 308.6 228.7 C312.9 221.1 317.2 211.5 320.1 202.9 C323 194.3 324.6 185.8 325.8 177.2 C327 168.6 327.7 160 327.2 151.4 C326.7 142.8 325 134.2 322.9 125.7 C320.8 117.1 317.9 108 314.3 99.9 C310.7 91.8 304.6 82.8 301.5 77 C298.4 71.2 296.9 67 296 65 L90 65  L88 70 C87.7 71.2 86.9 75 85.9 77 C84.9 79 83.2 80 82 82.2 C80.8 84.4 79.8 87.8 78.8 90 C77.8 92.2 76.7 93.2 75.7 95.4 C74.7 97.6 73.4 101.3 72.6 103.2 C71.8 105.2 71.1 105.4 70.6 107.2 C70.1 109 70.1 111.7 69.5 114.2 C68.9 116.7 67.4 120.7 67 122 L55 125  L55 190 Z" fill="#f42625"/><path d="M117.6 149.5 a91 93 0 1 0 182 0 a91 93 0 1 0 -182 0 Z" fill="#d40000"/><path d="M163.5 148.8 a55 53.8 0 1 0 110 0 a55 53.8 0 1 0 -110 0 Z" fill="#a60000"/><path d="M202.8 147.7 a23.2 22 0 1 0 46.4 0 a23.2 22 0 1 0 -46.4 0 Z" fill="#ab0078"/></g></g>
<g clip-path="url(#data)"><g clip-path="url(#isl)" shape-rendering="crispEdges"><rect x="60" y="60" width="780" height="480" fill="#f5dfa0"/><path d="M474.5 104 C475.3 104.8 477.6 106.8 479.4 108.7 C481.1 110.7 482.9 112.9 485 115.7 C487.1 118.5 490 122.6 491.9 125.4 C493.8 128.2 493.4 128.9 496.1 132.3 C498.8 135.7 504 142.1 508 146 C512 149.9 515.6 152.5 520 155.8 C524.4 159.1 529.5 162.8 534.3 165.9 C539.1 169 543.9 171.7 548.7 174.5 C553.5 177.3 558.2 180.1 563 183 C567.8 185.9 572.5 188.6 577.3 191.7 C582.1 194.8 586.8 198.4 591.6 201.7 C596.4 205 601.3 208.5 606 211.7 C610.7 214.9 617.7 219.4 620 221 L660 225 L660 70 L470 70 Z" fill="#e6dec5"/><path d="M767.1 416.4 C765.1 417.5 759.3 420.7 755 423.3 C750.7 425.9 745.7 430 741.1 432 C736.5 434 731.8 435.8 727.2 435.5 C722.6 435.2 717.9 432.9 713.3 430.3 C708.7 427.7 704 423.9 699.4 419.9 C694.8 415.8 689.9 411.2 685.6 406 C681.3 400.8 677.5 393.8 673.4 388.6 C669.3 383.4 665.6 378.2 661.2 374.7 C656.9 371.2 650.6 369 647.4 367.8 C644.2 366.6 645.8 367.6 642.3 367.4 C638.8 367.2 631.6 366.1 626.7 366.5 C621.8 366.9 617.4 367.8 612.8 370 C608.2 372.2 602.7 376.5 598.9 379.5 C595.1 382.5 593.1 385.3 590.2 388.2 C587.3 391.1 584.7 395.9 581.5 396.9 C578.3 397.9 575.1 395.6 571.1 394.3 C567.1 393 561.8 390.4 557.2 389.1 C552.6 387.8 547.9 386.9 543.3 386.5 C538.7 386.1 534 385.9 529.4 386.5 C524.8 387.1 519.9 388.2 515.6 389.9 C511.3 391.6 506.9 394 503.4 396.9 C499.9 399.8 497 403.6 494.7 407.3 C492.4 411.1 490.8 415.6 489.5 419.4 C488.2 423.2 488.1 425.6 486.9 430 C485.6 434.4 483.6 441.3 482 446 C480.4 450.7 478.9 453.5 477.1 458.1 C475.3 462.7 473.9 469.3 471.2 473.8 C468.6 478.2 465.2 480.4 461.3 484.6 C457.4 488.8 453.8 494.1 447.8 499.1 C441.8 504.1 431.1 509.5 425.1 514.6 C419.1 519.8 414.2 527.4 412 530 L830 530 L830 405 L780 405 Z" fill="#e6dec5"/><path d="M495 72 C496.1 74.2 499.4 80.6 501.7 85.1 C504 89.6 505.6 94.4 508.6 99 C511.6 103.6 515.4 108.3 519.7 112.5 C524 116.7 529.5 120.9 534.3 124.3 C539.1 127.7 543.9 130.5 548.7 132.9 C553.5 135.3 558.2 136.7 563 138.9 C567.8 141.1 572.5 143.7 577.3 146 C582.1 148.3 586.8 150.6 591.6 153 C596.4 155.4 600.4 157.8 606 160.3 C611.6 162.8 621.8 166.7 625 168 L660 170 L660 70 Z" fill="#d0d5e0"/><path d="M772 417 C771.5 417.5 770.9 418.6 768.9 419.9 C766.9 421.2 762.8 423.3 760 425 C757.2 426.7 754.7 427.8 752.2 430 C749.8 432.2 748.1 435.8 745.3 438.3 C742.5 440.9 739.1 443.8 735.6 445.3 C732.1 446.8 728.6 447.4 724.4 447.4 C720.2 447.4 714.8 446.6 710.6 445.3 C706.4 444 702.4 441.6 699.4 439.7 C696.4 437.8 696 437.4 692.5 433.8 C689 430.1 683.2 423.3 678.6 418.1 C674 412.9 669.3 406.8 664.7 402.5 C660.1 398.2 654.5 394.1 650.8 392.1 C647.1 390.2 646.3 390 642.3 390.8 C638.3 391.6 631 394.1 626.7 396.9 C622.4 399.6 619.1 403.6 616.2 407.3 C613.4 411.1 611.3 415.6 609.3 419.4 C607.3 423.2 606 427.6 604.1 430 C602.2 432.4 600.4 433 598 434 C595.6 435 592.6 435.7 590 436 C587.4 436.3 585.1 436.6 582.6 435.8 C580.1 435 578.1 433.1 575 431 C571.9 428.9 568.4 425.1 564.2 422.9 C560 420.6 554.4 418.8 550 417.5 C545.6 416.2 541.1 415.6 537.7 415.2 C534.3 414.8 532.7 414.5 529.4 415.1 C526.1 415.8 522.6 416.8 518.1 419.1 C513.6 421.4 506.7 424.6 502.5 428.8 C498.3 433 495.3 438.6 492.7 444.5 C490.1 450.4 489.2 457.2 486.9 464 C484.6 470.8 482 479.3 479.1 485.5 C476.2 491.7 472.6 496.2 469.3 501.1 C466 506 462.7 510 459.5 514.8 C456.3 519.6 451.6 527.5 450 530 L830 530 L830 410 L785 410 Z" fill="#d0d5e0"/><path d="M524 70 C524.9 71.9 527.3 77.9 529.4 81.6 C531.5 85.3 534.1 89.1 536.4 92 C538.7 94.9 540.3 96.7 543.3 99 C546.3 101.3 550.7 103.9 554.4 106 C558.1 108.1 561.9 110 565.6 111.5 C569.3 113 572.6 113.9 576.7 115 C580.8 116.1 584.5 117 590 118 C595.5 119 603.3 120 610 121 C616.7 122 626.7 123.5 630 124 L660 124 L660 70 Z" fill="#bbc8f0"/><path d="M786 424 C784.9 425.1 781.6 427.5 779.3 430.3 C777 433.1 776.2 437.8 772.4 440.7 C768.6 443.6 761.6 444.7 756.7 447.6 C751.8 450.5 747.1 455.7 742.8 458 C738.5 460.3 735 460.9 730.7 461.5 C726.4 462.1 721.4 462.1 716.8 461.5 C712.2 460.9 707.6 460.3 703 458 C698.4 455.7 693.6 451.6 689 447.6 C684.4 443.6 679.7 438.4 675.1 433.8 C670.5 429.1 665.9 423.7 661.2 419.9 C656.6 416.1 650.9 412.8 647.4 411.2 C643.9 409.6 642.9 409.2 640 410 C637.1 410.8 633 413 630.1 416 C627.2 419 625.4 424.5 622.9 428 C620.4 431.5 617.9 434.3 615.1 437.1 C612.3 439.9 609.2 443.2 606 445 C602.8 446.8 599.1 447.4 595.6 447.6 C592.1 447.8 588.6 446.7 585 446 C581.4 445.3 577.7 444.3 574 443.5 C570.3 442.7 565.8 442.1 563 441 C560.2 439.9 559.9 437.9 557.2 436.6 C554.5 435.3 550.2 433.8 547 433 C543.8 432.2 542.5 431.6 537.7 431.8 C532.9 431.9 523.6 431.9 518.1 433.7 C512.6 435.5 508.1 438.4 504.5 442.5 C500.9 446.6 498.9 452.9 496.6 458.1 C494.3 463.3 492.8 467.9 490.8 473.8 C488.9 479.6 486.8 487.8 484.9 493.3 C482.9 498.8 480.9 503.4 479.1 507 C477.3 510.6 476.4 511 474 514.8 C471.6 518.6 466.5 527.5 465 530 L830 530 L830 424 Z" fill="#bbc8f0"/><path d="M578 93.5 C579.7 93.3 586.8 94.7 590 95.2 C593.2 95.7 596.7 96 597 96.5 C597.3 97 594.8 98 592 98 C589.2 98 582.3 97.2 580 96.5 C577.7 95.8 576.3 93.7 578 93.5 Z" fill="#93acf0"/><path d="M738.3 479.3 C736.4 479.2 730.9 479 727.2 478.6 C723.5 478.2 720.3 478.1 716.1 477.2 C711.9 476.3 706.8 475.4 702.2 473.1 C697.6 470.8 692.7 467 688.3 463.3 C683.9 459.6 679.5 454.7 675.8 450.8 C672.1 446.9 668.5 443.1 666 440 C663.5 436.9 663.5 433.7 660.7 431.9 C657.9 430.1 652.7 429.7 649 429.3 C645.3 428.9 642.4 428.2 638.5 429.3 C634.6 430.4 629.4 433.2 625.5 435.8 C621.6 438.4 619 441.9 615.1 445 C611.2 448.1 606.4 451.9 602.1 454.1 C597.8 456.3 593.5 456.9 589.1 458 C584.8 459.1 580.4 460.3 576 460.5 C571.6 460.7 567.3 459.6 563 459 C558.7 458.4 553.6 457.1 550 457 C546.4 456.9 544.1 459.3 541.6 458.1 C539.1 456.9 537 451.9 535 450 C533 448.1 532.3 447.4 529.8 446.4 C527.3 445.4 522.9 444.3 520 444 C517.1 443.7 515.2 443.1 512.3 444.5 C509.4 445.9 504.9 449.4 502.5 452.3 C500.1 455.2 498.7 457.8 497.6 462 C496.5 466.2 495.5 472.5 495.7 477.7 C495.9 482.9 499.6 487.9 498.6 493.3 C497.7 498.7 493.1 503.9 490 510 C486.9 516.1 481.7 526.7 480 530 L830 530 L830 480 L760 480 Z" fill="#93acf0"/><path d="M705 502.2 C704.1 501.7 701.5 500.8 699.4 499.4 C697.3 498 695.3 496.7 692.5 493.9 C689.7 491.1 686.3 486.7 682.8 482.8 C679.3 478.9 675.2 474.5 671.7 470.3 C668.2 466.1 664.9 461.7 661.9 457.8 C658.9 453.9 656.6 449.1 653.6 446.7 C650.6 444.3 647.7 443.7 643.9 443.2 C640.1 442.7 634.6 442.7 630.7 443.6 C626.8 444.6 623.5 446.5 620.3 448.9 C617 451.3 614.2 455 611.2 458 C608.2 461 605.8 464.7 602.1 467.1 C598.4 469.5 593.5 470.9 589.1 472.3 C584.8 473.7 580.4 475.1 576 475.5 C571.6 475.9 567.3 475.5 563 474.9 C558.7 474.3 553.2 472.5 550 472 C546.8 471.5 546 473 543.5 471.8 C541 470.6 537.3 467.3 535 465 C532.7 462.7 532 459.4 529.8 458.1 C527.6 456.8 525.2 457.1 522 457.1 C518.8 457.1 513.2 457.3 510.3 458.1 C507.4 458.9 505.8 460.1 504.5 462 C503.2 463.9 502.8 467.8 502.5 469.8 C502.2 471.8 503.4 470.6 503 474 C502.6 477.4 500.5 487.3 500 490 L500 530 L830 530 L830 505 L712 505 Z" fill="#557de2"/><path d="M660.6 515 C660.6 514 660.6 512.2 660.6 509.2 C660.6 506.1 660.8 500.6 660.6 496.7 C660.4 492.8 660.1 489.8 659.2 485.6 C658.3 481.4 656.9 475.9 655 471.7 C653.1 467.5 650.5 463.3 648 460.6 C645.5 457.9 642.7 456.5 639.8 455.4 C636.9 454.3 633.5 453.9 630.7 454.1 C627.9 454.3 625.5 455 622.9 456.7 C620.3 458.4 616.8 462.3 615.1 464.5 C613.4 466.7 612.7 467.8 612.5 469.7 C612.3 471.6 614.5 473.6 613.8 476.2 C613 478.8 609.3 481.9 608 485 C606.7 488.1 606.7 490 606 495 C605.3 500 604.3 511.7 604 515 L604 530 L662 530 Z" fill="#2d5bc8"/><path d="M482 192 C484.8 193.2 492.1 194.4 498.8 199 C505.4 203.6 513.7 211.7 521.7 219.6 C529.7 227.5 540.6 239 546.7 246.7 C552.8 254.4 556 259.8 558.5 266 C561 272.2 563.1 277.2 562 284 C560.9 290.8 557 300.7 552 306.5 C547 312.3 538.7 316.3 532 319 C525.3 321.7 518.7 322.8 512 322.8 C505.3 322.8 498.7 321.3 492 319 C485.3 316.7 477.8 311.9 472 309 C466.2 306.1 461.6 302.3 457 301.5 C452.4 300.7 447.8 301.1 444.5 304 C441.2 306.9 437.8 313.6 437 319 C436.2 324.4 437.4 331.1 439.5 336.5 C441.6 341.9 446.6 345.2 449.5 351.5 C452.4 357.8 455.2 367.3 457 374 C458.8 380.7 458.8 384.9 460 391.7 C461.2 398.5 463.3 408.6 464.5 415 C465.7 421.4 466.3 424.5 467 430 C467.7 435.5 469 443.2 468.5 448 C468 452.8 466.1 456 464 459 C461.9 462 459.6 464.1 455.6 465.9 C451.6 467.7 445.1 468.6 440 469.8 C434.9 471 433.6 470.5 425.1 473 C416.6 475.5 401 479.7 389 484.6 C377 489.5 361.3 497.6 352.9 502.6 C344.5 507.6 342.3 510 338.5 514.6 C334.7 519.2 331.4 527.4 330 530 L50 530 L50 60 L440 60 L440 150 L465 170 L478 190 Z" fill="#fedb7b"/><path d="M678.6 367.8 C679.2 368.9 680.7 370.6 682.1 374.7 C683.5 378.8 685 386.9 687.3 392.1 C689.6 397.3 692.8 401.7 696 406 C699.2 410.3 702.4 414.9 706.4 418.1 C710.4 421.3 716.2 423.9 720.3 425.1 C724.3 426.3 727.2 426.3 730.7 425.1 C734.2 423.9 738.2 420.4 741.1 418.1 C744 415.8 746.3 413.6 748.1 411.2 C749.9 408.8 751.4 405.2 752 404 L760 380 L700 355 L676 362 Z" fill="#fedb7b"/><path d="M69 502.6 C74.2 503 88.9 504.3 100.1 504.5 C111.3 504.7 124.2 504.6 136.2 503.7 C148.2 502.8 160.2 501 172.3 499 C184.4 497 196.4 494.8 208.5 491.8 C220.6 488.8 232.6 484.9 244.6 481 C256.6 477.1 268.7 472.8 280.7 468.3 C292.7 463.8 304.8 459.3 316.8 453.9 C328.8 448.5 343.3 442.4 352.9 435.8 C362.5 429.2 369.8 421.2 374.6 414.2 C379.5 407.2 380.4 399 382 394 C383.6 389 384.3 387 384 384 C383.7 381 379.7 379 380 376 C380.3 373 383.8 369.3 386 366 C388.2 362.7 391.3 360 393 356 C394.7 352 396.5 346.3 396 342 C395.5 337.7 391.3 337 390 330 C388.7 323 385.5 307 388 300 C390.5 293 401.1 291.8 405 288 C408.9 284.2 408.7 281.9 411.7 277.3 C414.7 272.7 419.7 265.1 423.1 260.2 C426.5 255.3 429.2 253 432 248 C434.8 243 438.7 233 440 230 L440 60 L50 60 L50 502 Z" fill="#fec84a"/><path d="M700 372 C700 373.5 700.2 378 700.3 380.8 C700.3 383.6 699.3 385.9 700.3 388.6 C701.3 391.4 703.6 393.8 706.4 397.3 C709.1 400.8 713.9 407.1 716.8 409.4 C719.7 411.7 721.9 414.1 723.8 411.2 C725.6 408.3 727.5 397.5 728.1 392.1 C728.7 386.8 727.2 382.5 727.2 379.1 C727.2 375.8 727.9 373.2 728 372 Z" fill="#fec84a"/><path d="M69 395 C73.2 396.1 85.7 399.2 94 401.5 C102.3 403.8 110.7 407.1 119 409 C127.3 410.9 135.7 412 144 412.8 C152.3 413.5 160.7 413.7 169 413.5 C177.3 413.3 185.7 412.7 194 411.5 C202.3 410.3 210.7 408.6 219 406.5 C227.3 404.4 235.8 401.9 244 399 C252.2 396.1 260 393.3 268 389 C276 384.7 284.7 377.8 292 373 C299.3 368.2 305.4 366.6 312 360 C318.6 353.4 325.6 341.6 331.7 333.3 C337.8 325 343.1 318 348.3 310.4 C353.5 302.8 358.5 295.5 363 287.5 C367.5 279.5 371.9 270.1 375.4 262.5 C378.9 254.9 381.5 248.6 383.8 241.7 C386 234.8 387.7 227.8 389 220.8 C390.3 213.9 390.9 208.2 391.3 200 C391.7 191.8 392.3 181.4 391.6 171.4 C390.9 161.4 389.2 151 387.3 140 C385.4 129 383.3 116.1 380.2 105.6 C377.1 95.1 371.4 84.6 368.7 77 C366 69.4 364.8 62.8 364 60 L50 60 L50 393 Z" fill="#fd963f"/><path d="M69 302.8 C73.2 305 85.7 312.1 94 316.5 C102.3 320.9 110.7 325.5 119 329 C127.3 332.5 135.7 335.5 144 337.8 C152.3 340 160.7 341.8 169 342.8 C177.3 343.7 185.7 343.7 194 343.2 C202.3 342.8 211.3 341.9 219 340.2 C226.7 338.6 232 336.5 240 333.3 C248 330.1 258.7 325.3 267 320.8 C275.3 316.3 282.7 311.8 290 306.2 C297.3 300.7 304.6 294.1 310.8 287.5 C317.1 280.9 322.6 273.6 327.5 266.7 C332.4 259.8 336.5 252.8 340 245.8 C343.5 238.9 346.1 232.6 348.3 225 C350.6 217.4 352 208.4 353.5 200 C355 191.6 356.7 181.9 357.3 174.3 C357.9 166.7 357.8 161.9 357.3 154.3 C356.8 146.7 355.8 137.1 354.4 128.5 C353 119.9 351.6 111.4 348.7 102.8 C345.8 94.2 339.8 84.1 337.2 77 C334.6 69.9 333.7 62.8 333 60 L50 60 L50 300 Z" fill="#fd5f1c"/><path d="M69 194.5 C70.3 197.2 74.1 205.6 77 211 C79.9 216.4 81.6 220.2 86.5 227 C91.4 233.8 99.8 245.5 106.5 252 C113.2 258.5 120.4 262.2 126.5 266 C132.6 269.8 138.1 272.4 143 274.8 C147.9 277.2 151.8 279 156.1 280.6 C160.4 282.2 164.8 283.5 169.1 284.5 C173.4 285.5 177.1 286.1 182.1 286.5 C187.1 286.9 192.8 287 199 287 C205.2 287 211.5 287.8 219 286.5 C226.5 285.2 236.5 281.9 244 279 C251.5 276.1 258 272.1 264 269 C270 265.9 274.9 263.6 280 260.2 C285.1 256.8 289.5 253.9 294.3 248.7 C299.1 243.4 304.3 236.3 308.6 228.7 C312.9 221.1 317.2 211.5 320.1 202.9 C323 194.3 324.6 185.8 325.8 177.2 C327 168.6 327.7 160 327.2 151.4 C326.7 142.8 325 134.2 322.9 125.7 C320.8 117.1 317.9 108 314.3 99.9 C310.7 91.8 304.6 82.8 301.5 77 C298.4 71.2 296.9 67 296 65 L90 65  L88 70 C87.7 71.2 86.9 75 85.9 77 C84.9 79 83.2 80 82 82.2 C80.8 84.4 79.8 87.8 78.8 90 C77.8 92.2 76.7 93.2 75.7 95.4 C74.7 97.6 73.4 101.3 72.6 103.2 C71.8 105.2 71.1 105.4 70.6 107.2 C70.1 109 70.1 111.7 69.5 114.2 C68.9 116.7 67.4 120.7 67 122 L55 125  L55 190 Z" fill="#f42625"/><path d="M117.6 149.5 a91 93 0 1 0 182 0 a91 93 0 1 0 -182 0 Z" fill="#d40000"/><path d="M163.5 148.8 a55 53.8 0 1 0 110 0 a55 53.8 0 1 0 -110 0 Z" fill="#a60000"/><path d="M202.8 147.7 a23.2 22 0 1 0 46.4 0 a23.2 22 0 1 0 -46.4 0 Z" fill="#ab0078"/></g></g>
<path d="M120.6 579.3 L114.8 576.4 L111.9 571.5 L113.8 567.6 L116.7 562.7 L120.6 558.8 L126.5 557.9 L132.4 554.9 L138.2 551 L144.1 547.1 L149 543.6 L154.8 544.2 L156.8 549.1 L161.7 552 L167.5 551 L173.4 548.1 L177.3 544.2 L179.2 538.9 L185.1 536.4 L192.9 533.4 L198.8 535.4 L208.5 533.8 L214.4 536.4 L218.3 536.4 L220.2 530.5 L228.1 527.6 L230 533.4 L235.9 537.3 L240.8 538.3 L243.7 534.4 L249.5 533 L254.4 536.4 L255.4 541.2 L250.5 545.2 L257.4 550 L252.5 552 L253.4 557.9 L252.5 563.7 L254.4 568.6 L253.4 573.5 L246.6 570.5 L235.9 569.6 L231 568.6 L228.1 571.5 L228.1 576.4 L216.3 576.4 L214.4 574.5 L224.2 572.5 L226.1 568.6 L223.2 564.7 L216.3 568.6 L212.4 571.5 L200.7 566.6 L192.9 565.7 L187 561.8 L185.1 554.9 L180.2 553.4 L173.4 555.9 L165.6 554.9 L157.8 554.5 L149.9 556.9 L142.1 561.2 L136.3 566.6 L132.4 569.6 L133.3 572.5 L144.1 571.5 L153.8 574.5 L155.8 577.4 L149.9 578.8 L142.1 578.4 L132.4 578 L126.5 579.8 Z" fill="#f0f0f0" stroke="#000" stroke-width="1" stroke-linejoin="round" shape-rendering="crispEdges"/>
<g fill="none" stroke="#000" stroke-width="1" stroke-linejoin="round" shape-rendering="crispEdges">
<path d="M381.6 77 L388.8 81.3 L398.8 87 L402 89.5 L403.1 94.2 L404.5 108.5 L406.5 124.5 L402 131 L402.5 137 L398 142.5 L395.9 144.3 L389.5 144.5 L383 144.2 L377 139 L372 139.5 L371.5 142.5 L374.4 148 L377.5 156.5 L389.5 163 L398 169.5 L403.1 171.4 L409.5 178 L411.7 180.5 L412 185 L418 194.5 L420.2 197.2 L424.5 202 L426 203 L426 213 L425 219.5 L421.5 227.8 L421.1 236.7 L423.3 248 L423.3 251.1 L426.7 260 L430 265 L432.8 268.9 L433.3 271.7 L431.9 273.1 L427.2 276.2 L425.6 279.4 L424.8 282.5 L414.7 282.5 L406.9 283.3 L397.5 286.4 L388.1 288 L379.5 288.8 L375.6 293.4 L370.9 297.3 L367 302.8 L367 309 L369.4 315.3 L372.5 320 L377.2 326.2 L383.4 332.5 L388.1 337.2 L389.7 343.4 L389.7 351.2 L383.4 353.6 L381.9 357.5 L380.3 362.2 L377.2 363.8 L375.6 370 L374.8 376.2 L377.2 380.9 L382.7 381.7 L386.6 376.2 L389.7 373.1 L391.2 371.6 L396 365.3 L400.6 360.6 L404.5 354.4 L402.2 348.1 L399.8 343.4 L404.5 341.9 L404.5 337.2 L402.2 332.5 L398.3 326.2 L397.5 318.4 L397.5 312.2 L399 305.9 L403.8 303.6 L414.7 302.8 L425.6 300.5 L438.1 297.3 L445.9 295 L446.7 287.2 L453.8 282.5 L460 279.4 L463.3 275.6 L465.6 265.6 L471.1 261.1 L477.8 261.7 L490 263.9 L492.2 267.8 L489.4 275.6 L487.8 283.3 L494.4 287.2 L503.3 286.1 L502.8 284.4 L495.6 284.4 L491.1 278.9 L494.4 272.2 L502.2 268.3 L510 268.3 L504.4 263.3 L505.6 259.4 L497.8 257.2 L502.2 253.3 L503.3 250 L500 244.4 L503.3 242.2 L500 240 L494.4 233.3 L485.6 231.1 L483.3 227.8 L487.8 227.2 L483.3 225 L482.2 221.7 L482 212 L494.5 202 L502 188.2 L502 184 L493.2 184.5 L483.2 189.5 L482 183.2 L484.5 180.8 L487 170.8 L492 164.5 L507 157 L527 149.5 L529.5 143.5 L525.3 140.7 L519.7 135.1 L514.2 130.2 L505.8 131 L497.5 132.3 L496.1 133.7 L491.9 128.9 L487.8 125.4 L479.4 121.2 L476.7 117 L469.7 114.3 L471.1 112.9 L476.7 110.8 L479.4 108 L483.6 109.4 L487.8 108.7 L489.9 106 L490.6 101.8 L487.8 98.3 L482.2 96.9 L473.9 96.2 L473.2 94.8 L478.1 90 L487.8 87.2 L498.9 84.4 L508.6 84 L519.7 83 L528.1 82.3 L532.2 80.2 L543.3 80.2 L548.9 82.3 L557.2 85.8 L561.4 84.4 L565.6 87.9 L571.1 90.7 L573.9 94.1 L580.8 94.8 L591.9 96.2 L594.7 97.6 L598.9 96.2 L601.7 99 L603.1 102.5 L593.3 103.2 L598.9 105.2 L596.1 106.6 L604.4 107.3 L605.8 114.3 L607.2 117 L598.9 116.4 L593.3 115.7 L589.2 116.4 L585 115.7 L580.8 115.7 L576.7 117.8 L573.9 119.8 L576.7 121.9 L579.4 124.7 L585 124 L590.6 122.6 L593.3 124.7 L598.9 125.4 L605.8 126.8 L604.4 128.9 L598.9 131 L597.5 133.7 L600.3 136.5 L604.4 135.1 L610 133.7 L613.5 135.1 L614.2 137.9 L612.1 140.7 L611.5 144.5 L612 157 L607 159.5 L587 179.5 L585.8 187 L594.5 197 L598.3 200 L600.8 204.5 L607.7 212.5 L610.8 225 L617.1 227.1 L615 234.4 L621.2 237.5 L633.8 238.5 L639 242.7 L641 236 L642.1 229.2 L645.2 232.3 L643.1 237.5 L645.2 243.8 L644.2 255.2 L649.4 260.4 L650.4 268.8 L649.4 283.3 L655.6 289.6 L653.5 302.1 L655.6 312.5 L651.5 325 L650.4 339.6 L652.5 350 L664.7 359.1 L675.1 365.2 L692.5 372.1 L701.2 379.1 L711.6 380.8 L722 379.1 L724.6 373.9 L727.2 376.5 L729 379.1 L737.6 379.9 L741.1 377.3 L743.7 381.7 L742 386 L748.1 388.6 L748.1 395.6 L745.5 404.2 L753.3 409.4 L762 412.9 L768.9 419.9 L777.6 423.3 L782.8 428.5 L786.2 433.8 L793.2 437.2 L800.1 439 L801.9 440.7 L800.1 443.3 L796.7 445.9 L793.2 444.2 L786.2 444.2 L781 445.9 L775.8 442.5 L768.9 438.5 L766 433 L760.2 432.5 L755 433.5 L750.8 436.9 L750.1 441.1 L755 443.9 L760.6 445.3 L761.2 450.8 L760.6 456.4 L759.9 463.3 L749.4 462.6 L743.9 467.5 L742.5 471.7 L739.7 478.6 L741.1 481.4 L748.1 480.7 L749.4 485.6 L752.2 491.1 L755 496.7 L757.8 501.5 L755 502.2 L748.1 502.9 L743.9 505 L738.3 502.2 L732.8 499.4 L727.2 500.8 L724.4 503.6 L725.8 506.4 L721.7 507.8 L718.9 510.6 L716.1 511.9 L713.3 509.2 L714 505 L710.6 502.2 L706.4 502.2 L705 506.4 L699.4 507.1 L695.3 503.6 L688.3 505 L682.8 506.4 L677.2 510.6 L677.2 515.4 L674.4 511.9 L668.9 509.9 L660.6 509.2 L655 509.9 L652.2 508.5 L644.7 507.4 L633 506.4 L629.1 501.5 L625 498.4 L615.6 497 L616.9 495.8 L618.1 493.2 L620.6 492 L618.8 489.5 L619.4 485.8 L620.6 484.2 L623.1 484.5 L632.5 484.5 L637.5 485.1 L643.8 487.6 L649.4 488 L644.4 477.6 L644.4 469.5 L633.8 470.1 L635 468.9 L634.4 466.4 L634.4 462 L630.6 457.3 L622.5 459.5 L617.5 458.6 L612.5 455.4 L606.2 453.2 L602 451.2 L596.9 448.9 L589.1 446.9 L580 444.3 L570.8 442.3 L567.6 440.4 L568.2 436.5 L570.8 434.5 L576 435.2 L581.9 434.5 L581.2 430 L577.3 427.4 L561.7 427.4 L560.5 431 L559 436 L562 439 L567.2 443.9 L577.6 447.3 L589.8 449.6 L600.2 453.2 L608.1 457 L614.4 459.2 L617.5 460.6 L622.5 461 L626.2 462.8 L631 466 L632.3 469.6 L638.8 473.9 L643.5 477.8 L640 481.4 L633.8 482 L626.9 478.9 L625 477 L616.9 478.9 L612.5 474.8 L607.5 478.2 L611.9 482 L608.8 484.5 L607.5 487 L607.5 489.5 L603.8 490.8 L600 491.4 L595 494.2 L586.3 495.1 L581.1 488.1 L577.6 482.9 L563.8 479.6 L551.7 478.9 L544.7 476.6 L543.1 472.6 L546.2 469.5 L558 471.1 L560.3 474.2 L568.1 471.9 L572 471.1 L568.1 468.8 L560.3 465.6 L552.5 461.7 L550.9 457.8 L541.6 457 L547.8 452.3 L552.5 446.9 L540 446.1 L533.8 443.8 L529.8 439.8 L526.7 436.3 L522.8 436.7 L519.7 439.1 L519.7 443 L522.8 445.7 L529 447.7 L530.6 452.3 L532.2 457.8 L531.4 468.8 L529.8 473.4 L521.2 473.4 L513.4 471.5 L505.6 472.7 L497.8 475 L493.9 476.6 L492.3 480.5 L496.2 485 L498.6 485.5 L499.5 489.9 L496 495.1 L489.1 502 L480.4 510.7 L477.9 515.9 L468.1 526.7 L473.5 531 L484.4 532.1 L487.6 536.5 L482.2 540.2 L467 540.8 L458.3 538.6 L449.7 537.6 L445.3 539.7 L436.6 539.3 L432.3 540.8 L425.8 545.1 L421.4 549.5 L419.3 556 L410.6 561.4 L406.2 564.7 L404.1 572.3 L395.4 578.8 L388.9 582 L387.8 587.5 L393.2 594 L394.3 600.5 L396.5 605.9 L401.9 604.8 L406.2 601.6 L412.8 600.5 L413.8 603.7 L406.2 607 L399.7 611.3 L393.2 609.2 L386.7 607 L380.2 605.9 L373.7 603.7 L371.5 600.5 L365 598.3 L354.2 595.7 L345.5 594.6 L345.5 596.1 L354.2 597.9 L365 600.5 L366.1 604.8 L365 608.1 L371.5 610.3 L374.8 613.5 L375.9 616.8 L384.5 620 L391.1 624.4 L393.2 629.8 L392.1 635.2 L386.7 636.9 L375.9 641.7 L367.2 646.1 L365 650.4 L358.5 650.8 L357.4 646.1 L352 643.9 L343.3 643.9 L332.5 644.3 L328.1 648.2 L323.8 649.3 L317.3 645 L314 641.3 L308.6 639.5 L302.1 635.2 L303.2 633 L308.6 630.9 L315.1 625.4 L319.4 620 L321.6 614.6 L322.7 607 L319.4 605.9 L315.1 608.1 L308.6 607.4 L303.2 607 L301 609.2 L298.8 613.5 L293.4 613.9 L289.1 613.5 L284.7 611.3 L276 610.9 L267.4 611.3 L264 611.6 L259.3 614.5 L254.4 619.4 L255.4 625.2 L261.3 627.2 L257.4 630.1 L251.5 634 L247.6 639.9 L239.8 641.2 L232 643.8 L226.1 644.8 L220.2 638.9 L212.4 637 L204.6 634 L200.7 629.1 L198.8 624.3 L189 621.3 L181.2 619.4 L177.3 613.5 L171.4 611.6 L163.6 610.6 L155.8 607.7 L149.9 606.7 L146 611.6 L142.1 606.7 L136.3 607.7 L143.1 605.7 L140.2 602.8 L134.3 599.8 L133.3 594 L137.2 590.1 L133.3 590.1 L134.3 586.2 L140.2 585.2 L144.1 580.3 L142.1 578.8 L138.2 578.8 L132.4 578 L126.5 580.7 L120.6 583.2 L112.8 583.8 L108.9 587.1 L103 584.2 L99.2 585.2 L95.2 584.2 L91.3 581.3 L87.4 580.3 L83.5 582.3 L79.6 580.3 L75.7 576.4 L76.7 570.5 L73.8 566.6 L68.9 564.3"/>
<path d="M205 148.3 L209.3 150.1 L216.5 151.5 L223.7 153.6 L229.4 155.8 L233 157.9 L238 158.4 L243.7 156.5 L248 154.4 L251.6 152.2 L251.6 149.3 L258.1 147.9 L265.2 146.5 L265.9 150.1 L264.5 154.4 L260.9 160.1 L258.1 160.8 L256.6 165.8 L254.5 169.4 L258.1 171.6 L263.1 171.6 L259.5 173 L255.9 173.7 L253.8 177.3 L252.3 187.3 L253.8 191.6 L255.2 197.4 L258.1 201.7 L260.2 204.5 L261.6 210.2 L260.9 216 L263.8 221.7 L268.1 226 L270.2 229.6 L269.5 233.2 L265.2 233.5 L263.8 228.9 L258.1 224.6 L250.9 220.3 L246.6 217.4 L244.4 211.7 L243 206 L240.9 203.1 L243.7 201.7 L248.7 200.2 L249.5 196.6 L246.6 194.5 L242.3 191.6 L239.4 187.3 L240.1 181.6 L240.9 176.6 L238 175.9 L235.1 173 L233 168 L230.1 162.2 L225.8 157.9 L220.8 155.8 L213.6 152.9 L207.9 151.5 L205 149.3 Z"/>
<path d="M175.6 257.8 L185.4 257.2 L186 264.3 L183.4 267.6 L180.8 270.8 L182.8 272.4 L187.3 271.5 L191.2 269.5 L195.1 270.8 L193.8 273.5 L189.9 276.1 L187.3 280 L182.1 283.2 L178.2 285.2 L174.3 286.5 L171.7 288.4 L170.4 293 L166.5 295.6 L162.6 298.9 L161.3 302.8 L156.7 303.4 L153.5 304.7 L154.1 308 L158.7 310.6 L165.2 311.2 L166.5 313.8 L162.6 315.1 L161.3 317.8 L160.6 328.2 L158 332.7 L160.6 336 L160.6 343.8 L159.3 347.1 L153.5 344.5 L151.5 341.2 L150.8 335.3 L154.8 332.7 L155.4 323 L150.8 321.7 L146.9 319.1 L145 312.5 L144.3 309.9 L145.6 307.3 L142.4 304.7 L139.1 303.4 L141.7 298.9 L145.6 296.3 L148.9 294.3 L149.5 289.7 L153.5 288.4 L160 284.5 L161.3 280 L161.3 270.8 L169.1 264.3 Z"/>
<path d="M585.8 321.5 L592 317.8 L607 322.8 L617 324 L619.5 331.5 L614.5 335.2 L612 344 L617 351.5 L615.8 357.8 L609.5 356.5 L603.2 352.8 L605.8 346.5 L607 341.5 L599.5 335.2 L592 331.5 L587 326.5 Z"/>
<path d="M530.8 351.5 L542 344 L549.5 346.5 L543.2 354 L542 361.5 L534.5 363.5 L532 357.8 L534.5 355.2 Z"/>
<path d="M394.5 441.5 L400.8 440.2 L409.5 445.2 L422 447 L424.5 450.2 L417 453.5 L407 451.5 L397 447 Z"/>
<path d="M738.3 511.9 L743.2 511.9 L742.5 518.9 L741.8 525.8 L739 524.4 L738.3 518.9 L739.7 514.7 Z"/>
<path d="M381.3 653 L382.4 646.1 L388.9 639.5 L395.4 638.5 L397.1 642.8 L393.2 645 L390 648.2"/>
</g>
<path d="M640 424.5 L644.5 425 L645.5 428 L641 428.5 Z" fill="#f0f0f0" stroke="#000" stroke-width="1" shape-rendering="crispEdges"/>
<g shape-rendering="crispEdges">
<path d="M230.5 142.5 l4 4 l-4 4 l-4 -4 Z" fill="none" stroke="#000" stroke-width="1"/>
<path d="M230.5 144.5 l2 2 l-2 2 l-2 -2 Z" fill="none" stroke="#b8108f" stroke-width="1"/>
<path d="M261.5 197.5 l4 4 l-4 4 l-4 -4 Z" fill="none" stroke="#000" stroke-width="1"/>
<path d="M261.5 199.5 l2 2 l-2 2 l-2 -2 Z" fill="none" stroke="#b8108f" stroke-width="1"/>
<path d="M574.5 121.5 l4 4 l-4 4 l-4 -4 Z" fill="none" stroke="#000" stroke-width="1"/>
<path d="M574.5 123.5 l2 2 l-2 2 l-2 -2 Z" fill="none" stroke="#b8108f" stroke-width="1"/>
<path d="M503.5 275.5 l4 4 l-4 4 l-4 -4 Z" fill="none" stroke="#000" stroke-width="1"/>
<path d="M503.5 277.5 l2 2 l-2 2 l-2 -2 Z" fill="none" stroke="#b8108f" stroke-width="1"/>
<path d="M452.5 312.5 l4 4 l-4 4 l-4 -4 Z" fill="none" stroke="#000" stroke-width="1"/>
<path d="M452.5 314.5 l2 2 l-2 2 l-2 -2 Z" fill="none" stroke="#b8108f" stroke-width="1"/>
<path d="M474.5 443.5 l4 4 l-4 4 l-4 -4 Z" fill="none" stroke="#000" stroke-width="1"/>
<path d="M474.5 445.5 l2 2 l-2 2 l-2 -2 Z" fill="none" stroke="#b8108f" stroke-width="1"/>
<path d="M474.5 461.5 l4 4 l-4 4 l-4 -4 Z" fill="none" stroke="#000" stroke-width="1"/>
<path d="M474.5 463.5 l2 2 l-2 2 l-2 -2 Z" fill="none" stroke="#b8108f" stroke-width="1"/>
<path d="M508.5 461.5 l4 4 l-4 4 l-4 -4 Z" fill="none" stroke="#000" stroke-width="1"/>
<path d="M508.5 463.5 l2 2 l-2 2 l-2 -2 Z" fill="none" stroke="#b8108f" stroke-width="1"/>
<path d="M589.5 424.5 l4 4 l-4 4 l-4 -4 Z" fill="none" stroke="#000" stroke-width="1"/>
<path d="M589.5 426.5 l2 2 l-2 2 l-2 -2 Z" fill="none" stroke="#b8108f" stroke-width="1"/>
<path d="M610.5 438.5 l4 4 l-4 4 l-4 -4 Z" fill="none" stroke="#000" stroke-width="1"/>
<path d="M610.5 440.5 l2 2 l-2 2 l-2 -2 Z" fill="none" stroke="#b8108f" stroke-width="1"/>
<path d="M639.5 419.5 l4 4 l-4 4 l-4 -4 Z" fill="none" stroke="#000" stroke-width="1"/>
<path d="M639.5 421.5 l2 2 l-2 2 l-2 -2 Z" fill="none" stroke="#b8108f" stroke-width="1"/>
<path d="M629.5 455.5 l4 4 l-4 4 l-4 -4 Z" fill="none" stroke="#000" stroke-width="1"/>
<path d="M629.5 457.5 l2 2 l-2 2 l-2 -2 Z" fill="none" stroke="#b8108f" stroke-width="1"/>
<path d="M652.5 398.5 l4 4 l-4 4 l-4 -4 Z" fill="none" stroke="#000" stroke-width="1"/>
<path d="M652.5 400.5 l2 2 l-2 2 l-2 -2 Z" fill="none" stroke="#b8108f" stroke-width="1"/>
<path d="M709.5 385.5 l4 4 l-4 4 l-4 -4 Z" fill="none" stroke="#000" stroke-width="1"/>
<path d="M709.5 387.5 l2 2 l-2 2 l-2 -2 Z" fill="none" stroke="#b8108f" stroke-width="1"/>
<path d="M720.5 412.5 l4 4 l-4 4 l-4 -4 Z" fill="none" stroke="#000" stroke-width="1"/>
<path d="M720.5 414.5 l2 2 l-2 2 l-2 -2 Z" fill="none" stroke="#b8108f" stroke-width="1"/>
<path d="M735.5 423.5 l4 4 l-4 4 l-4 -4 Z" fill="none" stroke="#000" stroke-width="1"/>
<path d="M735.5 425.5 l2 2 l-2 2 l-2 -2 Z" fill="none" stroke="#b8108f" stroke-width="1"/>
<path d="M739.5 420.5 l4 4 l-4 4 l-4 -4 Z" fill="none" stroke="#000" stroke-width="1"/>
<path d="M739.5 422.5 l2 2 l-2 2 l-2 -2 Z" fill="none" stroke="#b8108f" stroke-width="1"/>
<path d="M797.5 437.5 l4 4 l-4 4 l-4 -4 Z" fill="none" stroke="#000" stroke-width="1"/>
<path d="M797.5 439.5 l2 2 l-2 2 l-2 -2 Z" fill="none" stroke="#b8108f" stroke-width="1"/>
<path d="M728.5 488.5 l4 4 l-4 4 l-4 -4 Z" fill="none" stroke="#000" stroke-width="1"/>
<path d="M728.5 490.5 l2 2 l-2 2 l-2 -2 Z" fill="none" stroke="#b8108f" stroke-width="1"/>
</g>
<path d="M297.60 58.50 L302.60 69.50 L307.60 58.50 M309.10 61.50 L309.10 69.50 M308.60 58.50 L309.60 58.50 M318.50 63.50 L316.50 61.50 L314.50 61.50 L312.50 63.50 L312.50 67.50 L314.50 69.50 L316.50 69.50 L318.50 67.50 M321.50 61.50 L325.50 61.50 M323.50 58.50 L323.50 68.50 L324.50 69.50 L325.50 69.50 M330.50 69.50 L333.50 69.50 L335.50 67.50 L335.50 63.50 L333.50 61.50 L330.50 61.50 L328.50 63.50 L328.50 67.50 L330.50 69.50 M338.60 61.50 L338.60 69.50 M338.60 64.50 L340.60 62.50 L341.60 61.50 L343.10 61.50 M345.90 61.50 L345.90 69.50 M345.40 58.50 L346.40 58.50 M355.90 61.50 L355.90 69.50 M355.90 63.50 L353.90 61.50 L351.40 61.50 L349.40 63.50 L349.40 67.50 L351.40 69.50 L353.90 69.50 L355.90 67.50 M358.70 58.50 L361.45 69.50 L364.20 58.50 L366.95 69.50 L369.70 58.50 M372.30 65.50 L378.80 65.50 L378.80 63.50 L376.80 61.50 L374.30 61.50 L372.30 63.50 L372.30 67.50 L374.30 69.50 L376.80 69.50 L378.80 67.50 M388.20 61.50 L388.20 69.50 M388.20 63.50 L386.20 61.50 L383.70 61.50 L381.70 63.50 L381.70 67.50 L383.70 69.50 L386.20 69.50 L388.20 67.50 M391.40 61.50 L395.40 61.50 M393.40 58.50 L393.40 68.50 L394.40 69.50 L395.40 69.50 M399.10 58.50 L399.10 69.50 M399.10 63.50 L401.10 61.50 L402.60 61.50 L404.60 63.50 L404.60 69.50 M407.70 65.50 L414.20 65.50 L414.20 63.50 L412.20 61.50 L409.70 61.50 L407.70 63.50 L407.70 67.50 L409.70 69.50 L412.20 69.50 L414.20 67.50 M418.20 61.50 L418.20 69.50 M418.20 64.50 L420.20 62.50 L421.20 61.50 L422.70 61.50 M425.80 68.50 L425.80 69.50 L425.30 70.50 M435.60 63.50 L433.60 61.50 L431.60 61.50 L429.60 63.50 L429.60 67.50 L431.60 69.50 L433.60 69.50 L435.60 67.50 M445.10 61.50 L445.10 69.50 M445.10 63.50 L443.10 61.50 L440.60 61.50 L438.60 63.50 L438.60 67.50 L440.60 69.50 L443.10 69.50 L445.10 67.50 M492.70 58.50 L499.70 58.50 M496.20 58.50 L496.20 69.50 M501.50 65.50 L508.00 65.50 L508.00 63.50 L506.00 61.50 L503.50 61.50 L501.50 63.50 L501.50 67.50 L503.50 69.50 L506.00 69.50 L508.00 67.50 M511.40 61.50 L511.40 69.50 M511.40 63.50 L513.40 61.50 L515.40 61.50 L517.40 63.50 L517.40 69.50 M517.40 63.50 L519.40 61.50 L521.40 61.50 L523.40 63.50 L523.40 69.50 M527.50 61.50 L527.50 73.50 M527.50 63.50 L529.50 61.50 L532.00 61.50 L534.00 63.50 L534.00 67.50 L532.00 69.50 L529.50 69.50 L527.50 67.50 M536.70 65.50 L543.20 65.50 L543.20 63.50 L541.20 61.50 L538.70 61.50 L536.70 63.50 L536.70 67.50 L538.70 69.50 L541.20 69.50 L543.20 67.50 M546.60 61.50 L546.60 69.50 M546.60 64.50 L548.60 62.50 L549.60 61.50 L551.10 61.50 M560.00 61.50 L560.00 69.50 M560.00 63.50 L558.00 61.50 L555.50 61.50 L553.50 63.50 L553.50 67.50 L555.50 69.50 L558.00 69.50 L560.00 67.50 M562.60 61.50 L566.60 61.50 M564.60 58.50 L564.60 68.50 L565.60 69.50 L566.60 69.50 M569.90 61.50 L569.90 67.50 L571.90 69.50 L573.40 69.50 L575.40 67.50 M575.40 61.50 L575.40 69.50 M579.80 61.50 L579.80 69.50 M579.80 64.50 L581.80 62.50 L582.80 61.50 L584.30 61.50 M586.30 65.50 L592.80 65.50 L592.80 63.50 L590.80 61.50 L588.30 61.50 L586.30 63.50 L586.30 67.50 L588.30 69.50 L590.80 69.50 L592.80 67.50" fill="none" stroke="#000" stroke-width="1" stroke-linejoin="bevel" shape-rendering="crispEdges"/>
<rect x="457" y="64" width="11" height="1" fill="#000"/><rect x="471" y="64" width="10.5" height="1" fill="#000"/>
<rect x="123" y="689" width="750" height="31" fill="#eeeeee"/>
<rect x="115.5" y="683" width="47.4" height="31" fill="#0b2865"/>
<rect x="162.3" y="683" width="47.4" height="31" fill="#2d5bc8"/>
<rect x="209.1" y="683" width="47.4" height="31" fill="#557de2"/>
<rect x="255.9" y="683" width="47.4" height="31" fill="#93acf0"/>
<rect x="302.8" y="683" width="47.4" height="31" fill="#bbc8f0"/>
<rect x="349.6" y="683" width="47.4" height="31" fill="#d0d5e0"/>
<rect x="396.4" y="683" width="47.4" height="31" fill="#e6dec5"/>
<rect x="443.2" y="683" width="47.4" height="31" fill="#f5dfa0"/>
<rect x="490" y="683" width="47.4" height="31" fill="#fedb7b"/>
<rect x="536.8" y="683" width="47.4" height="31" fill="#fec84a"/>
<rect x="583.6" y="683" width="47.4" height="31" fill="#fd963f"/>
<rect x="630.4" y="683" width="47.4" height="31" fill="#fd5f1c"/>
<rect x="677.2" y="683" width="47.4" height="31" fill="#f42625"/>
<rect x="724.1" y="683" width="47.4" height="31" fill="#d40000"/>
<rect x="770.9" y="683" width="47.4" height="31" fill="#a60000"/>
<rect x="817.7" y="683" width="47.4" height="31" fill="#ab0078"/>
<rect x="115.5" y="683.5" width="749" height="30" fill="none" stroke="#000" stroke-width="1"/>
<line x1="115.5" y1="683" x2="115.5" y2="718" stroke="#000" stroke-width="1"/>
<line x1="302.5" y1="683" x2="302.5" y2="718" stroke="#000" stroke-width="1"/>
<line x1="490.5" y1="683" x2="490.5" y2="718" stroke="#000" stroke-width="1"/>
<line x1="677.5" y1="683" x2="677.5" y2="718" stroke="#000" stroke-width="1"/>
<line x1="864.5" y1="683" x2="864.5" y2="718" stroke="#000" stroke-width="1"/>
<path d="M110.50 720.50 L112.50 719.50 L112.50 726.50 M116.50 719.50 L121.50 719.50 L117.50 726.50 M297.50 720.50 L299.50 719.50 L299.50 726.50 M308.50 722.50 L307.00 724.00 L305.00 724.00 L303.50 722.50 L303.50 721.00 L305.00 719.50 L307.00 719.50 L308.50 721.00 L308.50 725.00 L307.00 726.50 L305.00 726.50 L303.50 725.50 M485.00 721.50 L485.00 721.00 L486.50 719.50 L488.50 719.50 L490.00 721.00 L490.00 722.00 L485.50 726.50 M485.00 726.50 L490.00 726.50 M492.00 720.50 L494.00 719.50 L494.00 726.50 M672.00 721.50 L672.00 721.00 L673.50 719.50 L675.50 719.50 L677.00 721.00 L677.00 722.00 L672.50 726.50 M672.00 726.50 L677.00 726.50 M678.50 721.00 L680.00 719.50 L682.00 719.50 L683.50 721.00 L683.50 722.00 L682.00 723.00 L680.50 723.00 M682.00 723.00 L683.50 724.00 L683.50 725.00 L682.00 726.50 L680.00 726.50 L678.50 725.00 M859.00 721.50 L859.00 721.00 L860.50 719.50 L862.50 719.50 L864.00 721.00 L864.00 722.00 L859.50 726.50 M859.00 726.50 L864.00 726.50 M870.50 719.50 L866.00 719.50 L865.50 723.00 L867.00 722.00 L869.00 722.00 L870.50 723.50 L870.50 725.00 L869.00 726.50 L867.00 726.50 L865.50 725.00" fill="none" stroke="#fff" stroke-width="2.5" stroke-linejoin="round" stroke-linecap="round"/>
<path d="M110.50 720.50 L112.50 719.50 L112.50 726.50 M116.50 719.50 L121.50 719.50 L117.50 726.50 M297.50 720.50 L299.50 719.50 L299.50 726.50 M308.50 722.50 L307.00 724.00 L305.00 724.00 L303.50 722.50 L303.50 721.00 L305.00 719.50 L307.00 719.50 L308.50 721.00 L308.50 725.00 L307.00 726.50 L305.00 726.50 L303.50 725.50 M485.00 721.50 L485.00 721.00 L486.50 719.50 L488.50 719.50 L490.00 721.00 L490.00 722.00 L485.50 726.50 M485.00 726.50 L490.00 726.50 M492.00 720.50 L494.00 719.50 L494.00 726.50 M672.00 721.50 L672.00 721.00 L673.50 719.50 L675.50 719.50 L677.00 721.00 L677.00 722.00 L672.50 726.50 M672.00 726.50 L677.00 726.50 M678.50 721.00 L680.00 719.50 L682.00 719.50 L683.50 721.00 L683.50 722.00 L682.00 723.00 L680.50 723.00 M682.00 723.00 L683.50 724.00 L683.50 725.00 L682.00 726.50 L680.00 726.50 L678.50 725.00 M859.00 721.50 L859.00 721.00 L860.50 719.50 L862.50 719.50 L864.00 721.00 L864.00 722.00 L859.50 726.50 M859.00 726.50 L864.00 726.50 M870.50 719.50 L866.00 719.50 L865.50 723.00 L867.00 722.00 L869.00 722.00 L870.50 723.50 L870.50 725.00 L869.00 726.50 L867.00 726.50 L865.50 725.00 M428.50 730.50 L429.40 730.50 L430.20 731.30 L430.20 732.20 L429.40 733.00 L428.50 733.00 L427.70 732.20 L427.70 731.30 L428.50 730.50 M438.10 732.00 L436.60 730.50 L433.10 730.50 L431.60 732.00 L431.60 736.00 L433.10 737.50 L436.60 737.50 L438.10 736.00 M449.60 732.50 L449.60 732.00 L451.10 730.50 L453.10 730.50 L454.60 732.00 L454.60 733.00 L450.10 737.50 M449.60 737.50 L454.60 737.50 M458.50 737.50 L460.50 737.50 L462.00 736.00 L462.00 732.00 L460.50 730.50 L458.50 730.50 L457.00 732.00 L457.00 736.00 L458.50 737.50 M464.10 732.50 L464.10 732.00 L465.60 730.50 L467.60 730.50 L469.10 732.00 L469.10 733.00 L464.60 737.50 M464.10 737.50 L469.10 737.50 M476.10 731.50 L475.10 730.50 L472.60 730.50 L471.10 732.00 L471.10 736.00 L472.60 737.50 L474.60 737.50 L476.10 736.00 L476.10 734.50 L474.60 733.00 L472.60 733.00 L471.10 734.50 M476.70 740.50 L483.20 729.00 M486.20 737.50 L488.20 737.50 L489.70 736.00 L489.70 732.00 L488.20 730.50 L486.20 730.50 L484.70 732.00 L484.70 736.00 L486.20 737.50 M494.50 737.50 L494.50 730.50 L490.50 735.50 L495.50 735.50 M497.60 740.50 L504.10 729.00 M505.60 732.50 L505.60 732.00 L507.10 730.50 L509.10 730.50 L510.60 732.00 L510.60 733.00 L506.10 737.50 M505.60 737.50 L510.60 737.50 M514.20 737.50 L516.20 737.50 L517.70 736.00 L517.70 732.00 L516.20 730.50 L514.20 730.50 L512.70 732.00 L512.70 736.00 L514.20 737.50 M524.50 731.50 L526.50 730.50 L526.50 737.50 M532.00 730.50 L537.00 730.50 L533.00 737.50 M538.20 733.50 L539.20 733.50 M538.20 737.50 L539.20 737.50 M541.00 732.00 L542.50 730.50 L544.50 730.50 L546.00 732.00 L546.00 733.00 L544.50 734.00 L543.00 734.00 M544.50 734.00 L546.00 735.00 L546.00 736.00 L544.50 737.50 L542.50 737.50 L541.00 736.00 M549.60 737.50 L551.60 737.50 L553.10 736.00 L553.10 732.00 L551.60 730.50 L549.60 730.50 L548.10 732.00 L548.10 736.00 L549.60 737.50" fill="none" stroke="#000" stroke-width="1" stroke-linejoin="bevel" shape-rendering="crispEdges"/>
</svg></body></html>
